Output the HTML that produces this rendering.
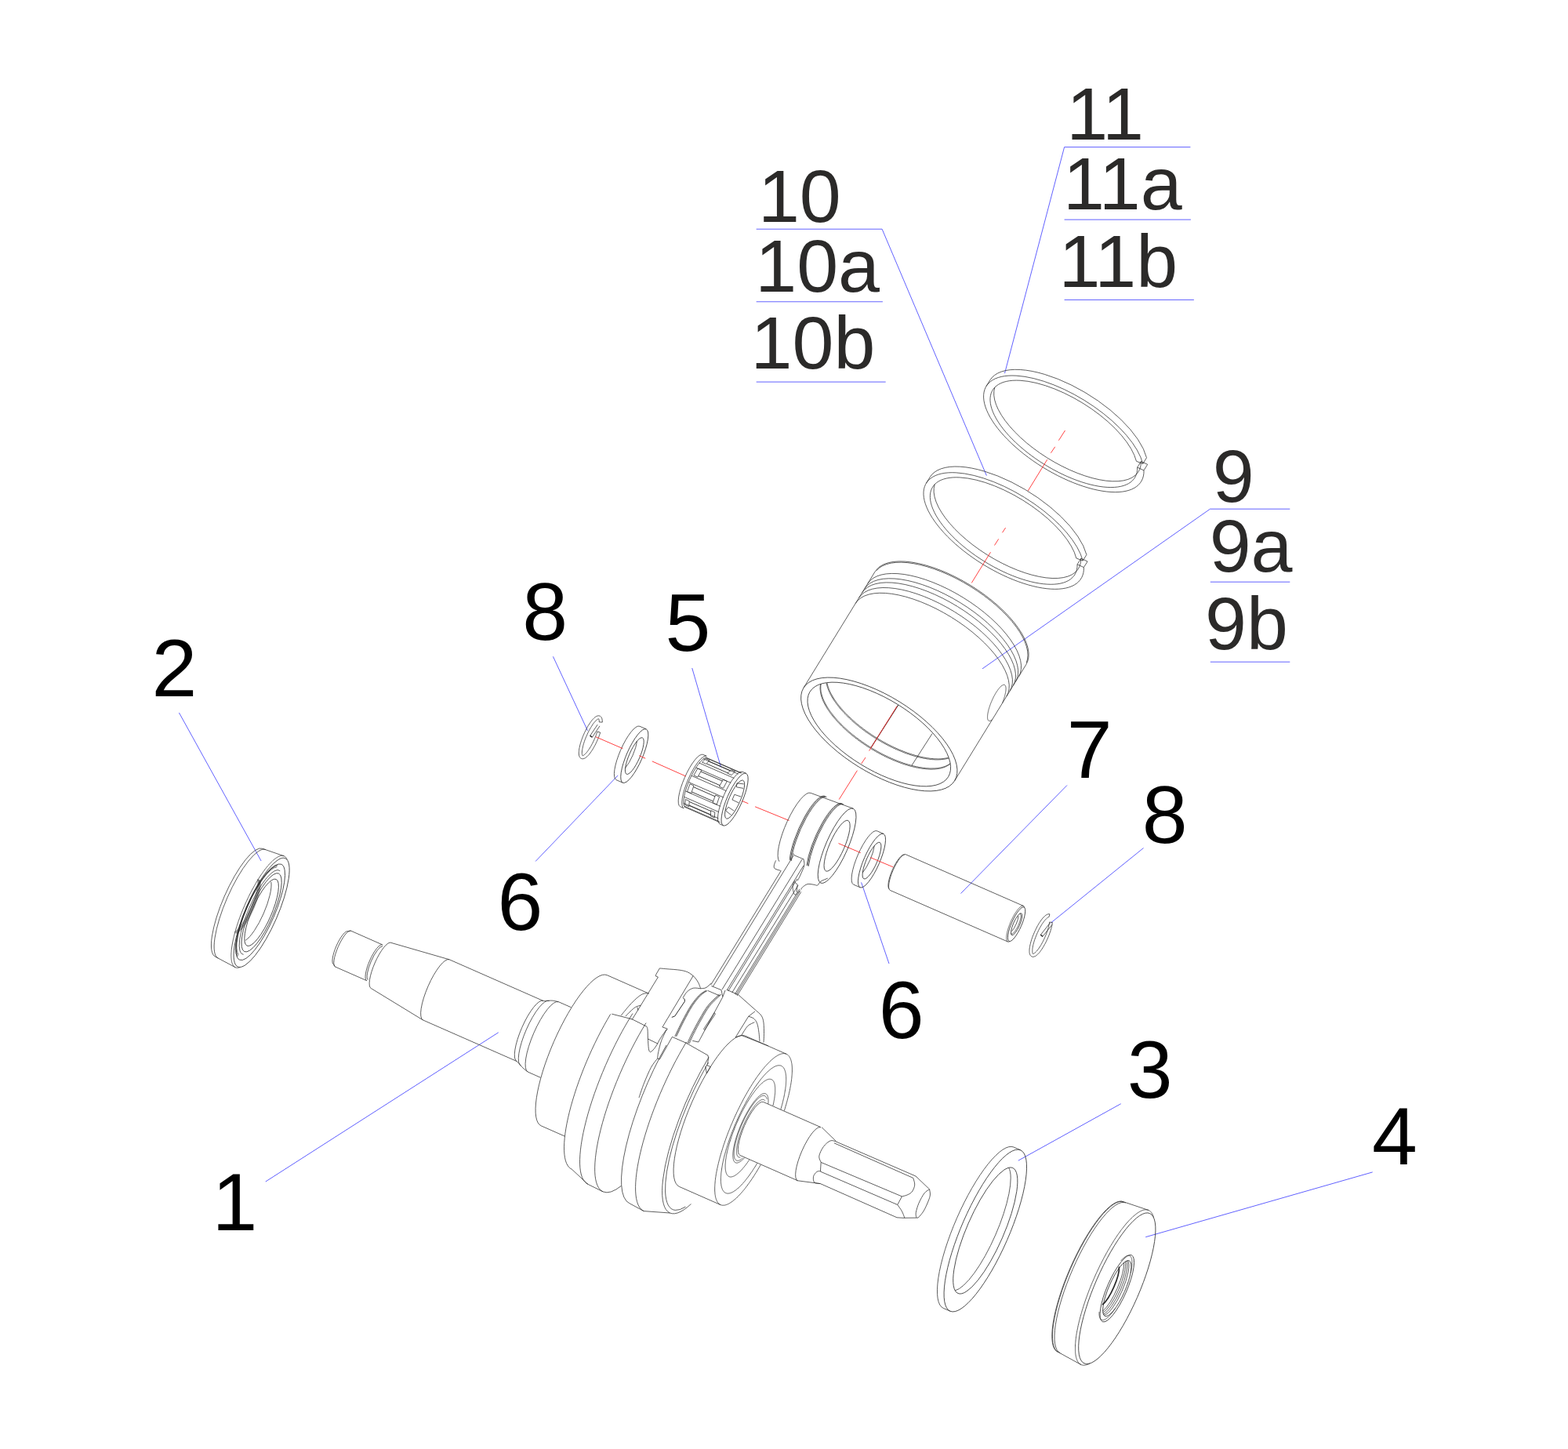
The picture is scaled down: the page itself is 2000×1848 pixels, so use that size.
<!DOCTYPE html>
<html><head><meta charset="utf-8"><title>Exploded view</title><style>html,body{margin:0;padding:0;background:#fff;font-family:"Liberation Sans",sans-serif}svg{display:block}</style></head><body><svg width="2000" height="1848" viewBox="0 0 2000 1848"><rect width="2000" height="1848" fill="#fff"/>
<text x="193.55" y="888.42" font-family="&quot;Liberation Sans&quot;, sans-serif" font-size="104" fill="#000">2</text>
<text x="270.41" y="1568.53" font-family="&quot;Liberation Sans&quot;, sans-serif" font-size="104" fill="#000">1</text>
<text x="666.16" y="815.64" font-family="&quot;Liberation Sans&quot;, sans-serif" font-size="104" fill="#000">8</text>
<text x="848.50" y="829.98" font-family="&quot;Liberation Sans&quot;, sans-serif" font-size="104" fill="#000">5</text>
<text x="634.51" y="1186.14" font-family="&quot;Liberation Sans&quot;, sans-serif" font-size="104" fill="#000">6</text>
<text x="1360.73" y="991.64" font-family="&quot;Liberation Sans&quot;, sans-serif" font-size="104" fill="#000">7</text>
<text x="1456.66" y="1075.24" font-family="&quot;Liberation Sans&quot;, sans-serif" font-size="104" fill="#000">8</text>
<text x="1120.71" y="1324.04" font-family="&quot;Liberation Sans&quot;, sans-serif" font-size="104" fill="#000">6</text>
<text x="1437.76" y="1399.62" font-family="&quot;Liberation Sans&quot;, sans-serif" font-size="104" fill="#000">3</text>
<text x="1750.03" y="1485.12" font-family="&quot;Liberation Sans&quot;, sans-serif" font-size="104" fill="#000">4</text>
<text x="966.93" y="282.60" font-family="&quot;Liberation Sans&quot;, sans-serif" font-size="95.2" fill="#2B2A29">10</text>
<text x="963.23" y="371.60" font-family="&quot;Liberation Sans&quot;, sans-serif" font-size="95.2" fill="#2B2A29">10a</text>
<text x="957.53" y="470.20" font-family="&quot;Liberation Sans&quot;, sans-serif" font-size="95.2" fill="#2B2A29">10b</text>
<text x="1360.23" y="178.40" font-family="&quot;Liberation Sans&quot;, sans-serif" font-size="95.2" fill="#2B2A29">11</text>
<text x="1355.93" y="266.90" font-family="&quot;Liberation Sans&quot;, sans-serif" font-size="95.2" fill="#2B2A29">11a</text>
<text x="1350.43" y="365.70" font-family="&quot;Liberation Sans&quot;, sans-serif" font-size="95.2" fill="#2B2A29">11b</text>
<text x="1546.65" y="640.30" font-family="&quot;Liberation Sans&quot;, sans-serif" font-size="95.2" fill="#2B2A29">9</text>
<text x="1542.65" y="729.30" font-family="&quot;Liberation Sans&quot;, sans-serif" font-size="95.2" fill="#2B2A29">9a</text>
<text x="1536.95" y="827.60" font-family="&quot;Liberation Sans&quot;, sans-serif" font-size="95.2" fill="#2B2A29">9b</text>
<path d="M228.40 909.00 L333.10 1098.00" fill="none" stroke="#4444ff" stroke-width="0.85" />
<path d="M338.75 1507.00 L635.75 1316.75" fill="none" stroke="#4444ff" stroke-width="0.85" />
<path d="M705.45 837.30 L749.55 931.95" fill="none" stroke="#4444ff" stroke-width="0.85" />
<path d="M882.75 852.00 L919.50 978.30" fill="none" stroke="#4444ff" stroke-width="0.85" />
<path d="M683.10 1098.50 L788.20 988.90" fill="none" stroke="#4444ff" stroke-width="0.85" />
<path d="M1361.00 1001.50 L1225.50 1139.50" fill="none" stroke="#4444ff" stroke-width="0.85" />
<path d="M1458.50 1081.50 L1340.40 1177.00" fill="none" stroke="#4444ff" stroke-width="0.85" />
<path d="M1134.00 1229.00 L1098.60 1125.40" fill="none" stroke="#4444ff" stroke-width="0.85" />
<path d="M1429.70 1407.70 L1298.80 1480.20" fill="none" stroke="#4444ff" stroke-width="0.85" />
<path d="M1750.70 1494.90 L1461.20 1577.70" fill="none" stroke="#4444ff" stroke-width="0.85" />
<path d="M964.70 292.20 L1125.10 292.20 L1258.40 606.60" fill="none" stroke="#4444ff" stroke-width="0.85" />
<path d="M1518.40 187.60 L1357.60 187.60 L1281.50 476.10" fill="none" stroke="#4444ff" stroke-width="0.85" />
<path d="M1645.30 649.15 L1543.50 649.15 L1253.00 852.90" fill="none" stroke="#4444ff" stroke-width="0.85" />
<path d="M964.70 384.80 L1125.90 384.80" fill="none" stroke="#4444ff" stroke-width="0.85" />
<path d="M964.70 487.10 L1129.70 487.10" fill="none" stroke="#4444ff" stroke-width="0.85" />
<path d="M1357.60 280.10 L1518.90 280.10" fill="none" stroke="#4444ff" stroke-width="0.85" />
<path d="M1357.60 382.40 L1522.90 382.40" fill="none" stroke="#4444ff" stroke-width="0.85" />
<path d="M1543.80 742.20 L1645.30 742.20" fill="none" stroke="#4444ff" stroke-width="0.85" />
<path d="M1543.80 844.20 L1645.30 844.20" fill="none" stroke="#4444ff" stroke-width="0.85" />
<ellipse cx="1256.80" cy="1569.50" rx="112.10" ry="30.27" transform="rotate(-66.40 1256.80 1569.50)" fill="none" stroke="#2a2a2a" stroke-width="0.75"/>
<path d="M1203.22 1668.42 A112.10 30.27 -66.40 0 1 1292.97 1462.97" fill="none" stroke="#2a2a2a" stroke-width="0.75"/>
<path d="M1301.7 1466.8 L1293.0 1463.0" fill="none" stroke="#2a2a2a" stroke-width="0.75" stroke-linejoin="round" />
<path d="M1211.9 1672.2 L1203.2 1668.4" fill="none" stroke="#2a2a2a" stroke-width="0.75" stroke-linejoin="round" />
<ellipse cx="1256.80" cy="1569.50" rx="87.30" ry="23.57" transform="rotate(-66.40 1256.80 1569.50)" fill="none" stroke="#2a2a2a" stroke-width="0.75"/>
<path d="M1286.68 1489.24 A87.30 23.57 -66.40 0 1 1218.21 1645.96" fill="none" stroke="#2a2a2a" stroke-width="0.75"/>
<ellipse cx="1424.80" cy="1643.20" rx="104.40" ry="28.19" transform="rotate(-66.40 1424.80 1643.20)" fill="none" stroke="#2a2a2a" stroke-width="0.75"/>
<path d="M1465.1 1543.5 L1465.5 1543.7 L1466.0 1544.0 L1466.4 1544.2 L1466.8 1544.5 L1467.2 1544.9 L1467.6 1545.2 L1468.0 1545.6 L1468.4 1546.1 L1468.7 1546.5 L1469.1 1547.0 L1469.4 1547.5 L1469.7 1548.1 L1470.0 1548.6 L1470.2 1549.2 L1470.5 1549.9 L1470.8 1550.5 L1471.0 1551.2 L1471.2 1551.9 L1471.4 1552.6" fill="none" stroke="#2a2a2a" stroke-width="0.75" stroke-linejoin="round" />
<path d="M1390.0 1738.9 L1389.3 1739.3 L1388.7 1739.6 L1388.0 1739.9 L1387.4 1740.2 L1386.7 1740.4 L1386.1 1740.6 L1385.5 1740.8 L1384.9 1740.9 L1384.3 1741.0 L1383.7 1741.1 L1383.1 1741.2 L1382.6 1741.2 L1382.0 1741.2 L1381.5 1741.1 L1381.0 1741.1 L1380.5 1741.0 L1380.0 1740.9 L1379.5 1740.7 L1379.0 1740.5 L1378.6 1740.3 L1378.1 1740.0 L1377.7 1739.8 L1377.3 1739.5 L1376.9 1739.1 L1376.5 1738.8 L1376.1 1738.4 L1375.7 1737.9 L1375.4 1737.5 L1375.0 1737.0 L1374.7 1736.5 L1374.4 1735.9 L1374.1 1735.4 L1373.9 1734.8 L1373.6 1734.1 L1373.3 1733.5 L1373.1 1732.8 L1372.9 1732.1 L1372.7 1731.4 L1372.5 1730.6 L1372.3 1729.8 L1372.2 1729.0 L1372.0 1728.1 L1371.9 1727.3 L1371.8 1726.4 L1371.7 1725.4 L1371.6 1724.5 L1371.6 1723.5 L1371.5 1722.5 L1371.5 1721.5 L1371.5 1720.5 L1371.5 1719.4 L1371.5 1718.3 L1371.5 1717.2 L1371.5 1716.0 L1371.6 1714.9 L1371.7 1713.7 L1371.8 1712.5 L1371.9 1711.2 L1372.0 1710.0 L1372.1 1708.7 L1372.3 1707.4 L1372.4 1706.1 L1372.6 1704.8 L1372.8 1703.4 L1373.0 1702.1 L1373.2 1700.7 L1373.5 1699.3 L1373.7 1697.9 L1374.0 1696.4 L1374.3 1695.0 L1374.6 1693.5 L1374.9 1692.0 L1375.2 1690.5 L1375.6 1689.0 L1375.9 1687.5 L1376.3 1685.9 L1376.7 1684.3 L1377.1 1682.8 L1377.5 1681.2 L1377.9 1679.6 L1378.4 1678.0 L1378.8 1676.4 L1379.3 1674.7 L1379.8 1673.1 L1380.2 1671.5 L1380.8 1669.8 L1381.3 1668.1 L1381.8 1666.5 L1382.3 1664.8 L1382.9 1663.1 L1383.5 1661.4 L1384.0 1659.7 L1384.6 1658.0 L1385.2 1656.3 L1385.8 1654.6 L1386.5 1652.8 L1387.1 1651.1 L1387.7 1649.4 L1388.4 1647.7 L1389.0 1645.9 L1389.7 1644.2 L1390.4 1642.5 L1391.1 1640.7 L1391.8 1639.0 L1392.5 1637.3 L1393.2 1635.6 L1394.0 1633.8 L1394.7 1632.1 L1395.5 1630.4 L1396.2 1628.7 L1397.0 1626.9 L1397.7 1625.2 L1398.5 1623.5 L1399.3 1621.8 L1400.1 1620.1 L1400.9 1618.5 L1401.7 1616.8 L1402.5 1615.1 L1403.3 1613.4 L1404.2 1611.8 L1405.0 1610.2 L1405.8 1608.5 L1406.7 1606.9 L1407.5 1605.3 L1408.3 1603.7 L1409.2 1602.1 L1410.1 1600.5 L1410.9 1598.9 L1411.8 1597.4 L1412.6 1595.8 L1413.5 1594.3 L1414.4 1592.8 L1415.3 1591.3 L1416.1 1589.8 L1417.0 1588.4 L1417.9 1586.9 L1418.8 1585.5 L1419.7 1584.1 L1420.5 1582.7 L1421.4 1581.3 L1422.3 1579.9 L1423.2 1578.6 L1424.1 1577.3 L1424.9 1576.0 L1425.8 1574.7 L1426.7 1573.4 L1427.6 1572.2 L1428.5 1571.0 L1429.3 1569.8 L1430.2 1568.6 L1431.1 1567.4 L1432.0 1566.3 L1432.8 1565.2 L1433.7 1564.1 L1434.5 1563.1 L1435.4 1562.0 L1436.2 1561.0 L1437.1 1560.0 L1437.9 1559.1 L1438.8 1558.1 L1439.6 1557.2 L1440.4 1556.3 L1441.2 1555.5 L1442.0 1554.6 L1442.9 1553.8 L1443.7 1553.1 L1444.5 1552.3 L1445.2 1551.6 L1446.0 1550.9 L1446.8 1550.2 L1447.6 1549.6 L1448.3 1549.0 L1449.1 1548.4 L1449.8 1547.8 L1450.5 1547.3 L1451.3 1546.8 L1452.0 1546.3 L1452.7 1545.9 L1453.4 1545.5 L1454.1 1545.1 L1454.8 1544.7 L1455.4 1544.4 L1456.1 1544.1 L1456.7 1543.8 L1457.4 1543.6 L1458.0 1543.4 L1458.6 1543.2 L1459.2 1543.1 L1459.8 1543.0 L1460.4 1542.9 L1461.0 1542.8 L1461.5 1542.8 L1462.1 1542.8 L1462.6 1542.9 L1463.1 1542.9 L1463.6 1543.0 L1464.1 1543.1 L1464.6 1543.3 L1465.1 1543.5" fill="none" stroke="#2a2a2a" stroke-width="0.75" stroke-linejoin="round" />
<path d="M1352.27 1725.55 A104.50 28.22 -66.40 0 1 1435.94 1534.03" fill="none" stroke="#2a2a2a" stroke-width="0.75"/>
<path d="M1349.70 1724.43 A104.50 28.22 -66.40 0 1 1433.37 1532.91" fill="none" stroke="#2a2a2a" stroke-width="0.75"/>
<path d="M1349.06 1724.15 A104.50 28.22 -66.40 0 1 1432.73 1532.63" fill="none" stroke="#2a2a2a" stroke-width="0.75"/>
<path d="M1465.1 1543.5 L1432.7 1532.6" fill="none" stroke="#2a2a2a" stroke-width="0.75" stroke-linejoin="round" />
<path d="M1379.0 1740.5 L1349.1 1724.1" fill="none" stroke="#2a2a2a" stroke-width="0.75" stroke-linejoin="round" />
<ellipse cx="1424.80" cy="1643.20" rx="46.30" ry="12.50" transform="rotate(-66.40 1424.80 1643.20)" fill="none" stroke="#2a2a2a" stroke-width="0.75"/>
<ellipse cx="1424.80" cy="1643.20" rx="38.60" ry="10.42" transform="rotate(-66.40 1424.80 1643.20)" fill="none" stroke="#2a2a2a" stroke-width="0.75"/>
<path d="M1429.6 1608.0 L1429.9 1607.6 L1430.2 1607.2 L1430.6 1606.9 L1430.9 1606.5 L1431.3 1606.2 L1431.6 1605.8 L1431.9 1605.5 L1432.3 1605.2 L1432.6 1604.9 L1432.9 1604.6 L1433.2 1604.3 L1433.6 1604.1 L1433.9 1603.8 L1434.2 1603.6 L1434.5 1603.3 L1434.8 1603.1 L1435.1 1602.9 L1435.4 1602.7 L1435.7 1602.5 L1436.0 1602.3 L1436.3 1602.2 L1436.5 1602.0 L1436.8 1601.9 L1437.1 1601.8 L1437.4 1601.7 L1437.6 1601.6 L1437.9 1601.5 L1438.1 1601.4 L1438.4 1601.4 L1438.6 1601.3 L1438.9 1601.3 L1439.1 1601.3 L1439.3 1601.2 L1439.6 1601.2 L1439.8 1601.3 L1440.0 1601.3 L1440.2 1601.3 L1440.4 1601.4 L1440.6 1601.5 L1440.8 1601.5 L1441.0 1601.6 L1441.2 1601.7 L1441.4 1601.8 L1441.5 1602.0 L1441.7 1602.1 L1441.9 1602.3 L1442.0 1602.4 L1442.2 1602.6 L1442.3 1602.8 L1442.5 1603.0 L1442.6 1603.2 L1442.7 1603.4 L1442.8 1603.7 L1443.0 1603.9 L1443.1 1604.2 L1443.2 1604.4 L1443.3 1604.7 L1443.4 1605.0 L1443.4 1605.3 L1443.5 1605.6 L1443.6 1606.0 L1443.7 1606.3 L1443.7 1606.7 L1443.8 1607.0 L1443.8 1607.4 L1443.9 1607.8 L1443.9 1608.2 L1443.9 1608.6 L1443.9 1609.0 L1443.9 1609.4 L1444.0 1609.9 L1444.0 1610.3 L1444.0 1610.7 L1443.9 1611.2 L1443.9 1611.7 L1443.9 1612.2 L1443.9 1612.7 L1443.8 1613.2 L1443.8 1613.7 L1443.7 1614.2 L1443.7 1614.7 L1443.6 1615.3 L1443.6 1615.8 L1443.5 1616.3 L1443.4 1616.9 L1443.3 1617.5 L1443.2 1618.1 L1443.1 1618.6 L1443.0 1619.2 L1442.9 1619.8 L1442.8 1620.4 L1442.7 1621.0 L1442.5 1621.7 L1442.4 1622.3 L1442.2 1622.9 L1442.1 1623.5" fill="none" stroke="#2a2a2a" stroke-width="0.75" stroke-linejoin="round" />
<path d="M1422.1 1669.3 L1421.8 1669.8 L1421.4 1670.3 L1421.0 1670.8 L1420.7 1671.4 L1420.3 1671.9 L1419.9 1672.4 L1419.6 1672.9 L1419.2 1673.3 L1418.9 1673.8 L1418.5 1674.3 L1418.1 1674.7 L1417.8 1675.1 L1417.4 1675.6 L1417.1 1676.0 L1416.7 1676.4 L1416.4 1676.8 L1416.0 1677.2 L1415.7 1677.6 L1415.3 1677.9 L1415.0 1678.3 L1414.7 1678.6 L1414.3 1679.0 L1414.0 1679.3 L1413.7 1679.6 L1413.3 1679.9 L1413.0 1680.2 L1412.7 1680.5 L1412.4 1680.7 L1412.1 1681.0 L1411.8 1681.2 L1411.4 1681.5 L1411.1 1681.7 L1410.8 1681.9 L1410.5 1682.1 L1410.3 1682.3 L1410.0 1682.5 L1409.7 1682.6 L1409.4 1682.8 L1409.1 1682.9 L1408.8 1683.0 L1408.6 1683.1 L1408.3 1683.2 L1408.1 1683.3 L1407.8 1683.4 L1407.5 1683.4 L1407.3 1683.5 L1407.1 1683.5 L1406.8 1683.5 L1406.6 1683.6 L1406.4 1683.5 L1406.1 1683.5 L1405.9 1683.5 L1405.7 1683.5 L1405.5 1683.4 L1405.3 1683.3 L1405.1 1683.3 L1404.9 1683.2 L1404.7 1683.1 L1404.6 1683.0 L1404.4 1682.8 L1404.2 1682.7 L1404.1 1682.5 L1403.9 1682.4 L1403.7 1682.2 L1403.6 1682.0 L1403.5 1681.8 L1403.3 1681.6 L1403.2 1681.4 L1403.1 1681.1 L1403.0 1680.9 L1402.9 1680.6 L1402.8 1680.4 L1402.7 1680.1 L1402.6 1679.8 L1402.5 1679.5 L1402.4 1679.2 L1402.3 1678.8 L1402.3 1678.5 L1402.2 1678.1 L1402.2 1677.8 L1402.1 1677.4 L1402.1 1677.0 L1402.0 1676.6 L1402.0 1676.2 L1402.0 1675.8 L1402.0 1675.4 L1402.0 1674.9 L1402.0 1674.5 L1402.0 1674.0 L1402.0 1673.6 L1402.0 1673.1" fill="none" stroke="#2a2a2a" stroke-width="0.75" stroke-linejoin="round" />
<path d="M1438.55 1607.61 A38.60 10.42 -66.40 0 1 1408.03 1677.46" fill="none" stroke="#2a2a2a" stroke-width="0.75"/>
<path d="M1437.12 1608.01 A38.60 10.42 -66.40 0 1 1407.35 1676.15" fill="none" stroke="#2a2a2a" stroke-width="0.75"/>
<path d="M1435.48 1608.89 A38.60 10.42 -66.40 0 1 1406.88 1674.35" fill="none" stroke="#2a2a2a" stroke-width="0.75"/>
<path d="M1433.60 1610.31 A38.60 10.42 -66.40 0 1 1406.65 1672.01" fill="none" stroke="#2a2a2a" stroke-width="0.75"/>
<path d="M1427.43 1615.45 A30.00 8.10 -66.40 0 1 1406.23 1663.99" fill="none" stroke="#2a2a2a" stroke-width="1.7"/>
<ellipse cx="333.60" cy="1163.80" rx="75.50" ry="20.39" transform="rotate(-66.40 333.60 1163.80)" fill="none" stroke="#2a2a2a" stroke-width="0.75"/>
<path d="M362.3 1091.8 L362.7 1091.9 L363.0 1092.1 L363.3 1092.3 L363.6 1092.5 L363.9 1092.8 L364.2 1093.0 L364.4 1093.3 L364.7 1093.6 L365.0 1094.0 L365.2 1094.3 L365.4 1094.7 L365.6 1095.1 L365.9 1095.5 L366.1 1095.9 L366.2 1096.4" fill="none" stroke="#2a2a2a" stroke-width="0.75" stroke-linejoin="round" />
<path d="M306.3 1233.6 L305.8 1233.7 L305.4 1233.9 L304.9 1234.0 L304.5 1234.1 L304.1 1234.2 L303.7 1234.3 L303.3 1234.3 L302.9 1234.3 L302.5 1234.3 L302.1 1234.3 L301.7 1234.2 L301.3 1234.2 L301.0 1234.1 L300.6 1234.0 L300.3 1233.8 L300.0 1233.7 L299.6 1233.5 L299.3 1233.3 L299.0 1233.1 L298.7 1232.8 L298.4 1232.6 L298.2 1232.3 L297.9 1232.0 L297.7 1231.6 L297.4 1231.3 L297.2 1230.9 L297.0 1230.5 L296.8 1230.1 L296.6 1229.7 L296.4 1229.2 L296.2 1228.8 L296.0 1228.3 L295.9 1227.8 L295.7 1227.2 L295.6 1226.7 L295.5 1226.1 L295.4 1225.5 L295.3 1224.9 L295.2 1224.3 L295.1 1223.6 L295.0 1223.0 L295.0 1222.3 L294.9 1221.6 L294.9 1220.9 L294.9 1220.1 L294.8 1219.4 L294.8 1218.6 L294.8 1217.8 L294.9 1217.0 L294.9 1216.2 L294.9 1215.3 L295.0 1214.5 L295.1 1213.6 L295.1 1212.7 L295.2 1211.8 L295.3 1210.9 L295.4 1210.0 L295.5 1209.0 L295.7 1208.1 L295.8 1207.1 L296.0 1206.1 L296.1 1205.1 L296.3 1204.1 L296.5 1203.1 L296.7 1202.0 L296.9 1201.0 L297.1 1199.9 L297.3 1198.8 L297.6 1197.8 L297.8 1196.7 L298.1 1195.6 L298.3 1194.5 L298.6 1193.3 L298.9 1192.2 L299.2 1191.1 L299.5 1189.9 L299.8 1188.7 L300.1 1187.6 L300.5 1186.4 L300.8 1185.2 L301.2 1184.0 L301.5 1182.8 L301.9 1181.6 L302.3 1180.4 L302.7 1179.2 L303.1 1178.0 L303.5 1176.8 L303.9 1175.6 L304.3 1174.3 L304.8 1173.1 L305.2 1171.9 L305.6 1170.6 L306.1 1169.4 L306.6 1168.1 L307.0 1166.9 L307.5 1165.6 L308.0 1164.4 L308.5 1163.1 L309.0 1161.9 L309.5 1160.6 L310.0 1159.4 L310.5 1158.2 L311.1 1156.9 L311.6 1155.7 L312.1 1154.4 L312.7 1153.2 L313.2 1151.9 L313.8 1150.7 L314.3 1149.5 L314.9 1148.3 L315.5 1147.0 L316.1 1145.8 L316.6 1144.6 L317.2 1143.4 L317.8 1142.2 L318.4 1141.0 L319.0 1139.8 L319.6 1138.7 L320.2 1137.5 L320.8 1136.3 L321.4 1135.2 L322.0 1134.0 L322.7 1132.9 L323.3 1131.8 L323.9 1130.6 L324.5 1129.5 L325.2 1128.4 L325.8 1127.3 L326.4 1126.3 L327.0 1125.2 L327.7 1124.1 L328.3 1123.1 L328.9 1122.1 L329.6 1121.0 L330.2 1120.0 L330.9 1119.0 L331.5 1118.1 L332.1 1117.1 L332.8 1116.1 L333.4 1115.2 L334.0 1114.3 L334.7 1113.4 L335.3 1112.5 L335.9 1111.6 L336.6 1110.7 L337.2 1109.9 L337.8 1109.1 L338.4 1108.2 L339.1 1107.4 L339.7 1106.7 L340.3 1105.9 L340.9 1105.1 L341.5 1104.4 L342.1 1103.7 L342.8 1103.0 L343.4 1102.3 L344.0 1101.7 L344.5 1101.0 L345.1 1100.4 L345.7 1099.8 L346.3 1099.2 L346.9 1098.7 L347.5 1098.1 L348.0 1097.6 L348.6 1097.1 L349.1 1096.6 L349.7 1096.2 L350.2 1095.7 L350.8 1095.3 L351.3 1094.9 L351.9 1094.5 L352.4 1094.2 L352.9 1093.8 L353.4 1093.5 L353.9 1093.2 L354.4 1092.9 L354.9 1092.7 L355.4 1092.4 L355.8 1092.2 L356.3 1092.0 L356.8 1091.9 L357.2 1091.7 L357.7 1091.6 L358.1 1091.5 L358.5 1091.4 L359.0 1091.3 L359.4 1091.3 L359.8 1091.3 L360.2 1091.3 L360.5 1091.3 L360.9 1091.4 L361.3 1091.4 L361.6 1091.5 L362.0 1091.6 L362.3 1091.8" fill="none" stroke="#2a2a2a" stroke-width="0.75" stroke-linejoin="round" />
<path d="M278.41 1222.19 A75.60 20.41 -66.40 0 1 338.94 1083.63" fill="none" stroke="#2a2a2a" stroke-width="0.75"/>
<path d="M274.63 1220.10 A75.20 20.30 -66.40 0 1 334.84 1082.28" fill="none" stroke="#2a2a2a" stroke-width="0.75"/>
<path d="M362.3 1091.8 L334.8 1082.3" fill="none" stroke="#2a2a2a" stroke-width="0.75" stroke-linejoin="round" />
<path d="M300.3 1233.8 L274.6 1220.1" fill="none" stroke="#2a2a2a" stroke-width="0.75" stroke-linejoin="round" />
<ellipse cx="332.23" cy="1163.20" rx="66.50" ry="17.96" transform="rotate(-66.40 332.23 1163.20)" fill="none" stroke="#2a2a2a" stroke-width="0.75"/>
<path d="M302.93 1220.43 A64.80 17.50 -66.40 0 1 354.31 1102.82" fill="none" stroke="#2a2a2a" stroke-width="0.6"/>
<path d="M303.62 1219.00 A63.20 17.06 -66.40 0 1 353.73 1104.30" fill="none" stroke="#2a2a2a" stroke-width="0.6"/>
<path d="M304.31 1217.57 A61.60 16.63 -66.40 0 1 353.15 1105.77" fill="none" stroke="#2a2a2a" stroke-width="0.6"/>
<path d="M310.65 1217.26 A58.40 15.77 -66.40 1 1 357.23 1110.64" fill="none" stroke="#2a2a2a" stroke-width="0.75"/>
<ellipse cx="333.60" cy="1163.80" rx="54.40" ry="14.69" transform="rotate(-66.40 333.60 1163.80)" fill="none" stroke="#2a2a2a" stroke-width="0.75"/>
<ellipse cx="333.60" cy="1163.80" rx="46.30" ry="12.50" transform="rotate(-66.40 333.60 1163.80)" fill="none" stroke="#2a2a2a" stroke-width="0.75"/>
<path d="M345.78 1124.68 A44.00 11.88 -66.40 0 1 313.17 1199.31" fill="none" stroke="#2a2a2a" stroke-width="0.75"/>
<path d="M332.00 1122.63 A40.00 10.80 -66.40 0 1 302.30 1190.60" fill="none" stroke="#2a2a2a" stroke-width="0.55"/>
<path d="M331.17 1122.27 A40.00 10.80 -66.40 0 1 301.47 1190.24" fill="none" stroke="#2a2a2a" stroke-width="0.55"/>
<path d="M330.35 1121.91 A40.00 10.80 -66.40 0 1 300.65 1189.88" fill="none" stroke="#2a2a2a" stroke-width="0.55"/>
<path d="M329.52 1121.55 A40.00 10.80 -66.40 0 1 299.83 1189.52" fill="none" stroke="#2a2a2a" stroke-width="0.55"/>
<path d="M328.70 1121.19 A40.00 10.80 -66.40 0 1 299.00 1189.16" fill="none" stroke="#2a2a2a" stroke-width="0.55"/>
<ellipse cx="1296.60" cy="1178.70" rx="23.70" ry="6.40" transform="rotate(-66.40 1296.60 1178.70)" fill="none" stroke="#2a2a2a" stroke-width="0.75"/>
<path d="M1305.4 1155.4 L1305.5 1155.4 L1305.6 1155.5 L1305.7 1155.5 L1305.8 1155.6 L1305.9 1155.7 L1306.0 1155.8 L1306.1 1155.9 L1306.1 1156.0 L1306.2 1156.1 L1306.3 1156.2 L1306.4 1156.3 L1306.4 1156.4 L1306.5 1156.6 L1306.6 1156.7 L1306.6 1156.8 L1306.7 1157.0 L1306.7 1157.1 L1306.8 1157.3 L1306.8 1157.5" fill="none" stroke="#2a2a2a" stroke-width="0.75" stroke-linejoin="round" />
<path d="M1288.0 1200.6 L1287.8 1200.7 L1287.7 1200.8 L1287.5 1200.9 L1287.4 1200.9 L1287.2 1201.0 L1287.1 1201.0 L1286.9 1201.1 L1286.8 1201.1 L1286.7 1201.1 L1286.5 1201.1 L1286.4 1201.1 L1286.3 1201.2 L1286.1 1201.2 L1286.0 1201.1 L1285.9 1201.1 L1285.8 1201.1 L1285.7 1201.1 L1285.5 1201.0 L1285.4 1201.0 L1285.3 1200.9 L1285.2 1200.9 L1285.1 1200.8 L1285.0 1200.8 L1284.9 1200.7 L1284.9 1200.6 L1284.8 1200.5 L1284.7 1200.4 L1284.6 1200.3 L1284.5 1200.2 L1284.4 1200.1 L1284.4 1199.9 L1284.3 1199.8 L1284.2 1199.7 L1284.2 1199.5 L1284.1 1199.4 L1284.1 1199.2 L1284.0 1199.0 L1284.0 1198.9 L1283.9 1198.7 L1283.9 1198.5 L1283.9 1198.3 L1283.8 1198.1 L1283.8 1197.9 L1283.8 1197.7 L1283.7 1197.5 L1283.7 1197.3 L1283.7 1197.1 L1283.7 1196.8 L1283.7 1196.6 L1283.7 1196.4 L1283.7 1196.1 L1283.7 1195.8 L1283.7 1195.6 L1283.7 1195.3 L1283.7 1195.1 L1283.7 1194.8 L1283.8 1194.5 L1283.8 1194.2 L1283.8 1193.9 L1283.8 1193.6 L1283.9 1193.3 L1283.9 1193.0 L1284.0 1192.7 L1284.0 1192.4 L1284.1 1192.1 L1284.1 1191.8 L1284.2 1191.4 L1284.2 1191.1 L1284.3 1190.8 L1284.3 1190.4 L1284.4 1190.1 L1284.5 1189.8 L1284.6 1189.4 L1284.6 1189.1 L1284.7 1188.7 L1284.8 1188.3 L1284.9 1188.0 L1285.0 1187.6 L1285.1 1187.3 L1285.2 1186.9 L1285.3 1186.5 L1285.4 1186.1 L1285.5 1185.8 L1285.6 1185.4 L1285.7 1185.0 L1285.8 1184.6 L1286.0 1184.2 L1286.1 1183.8 L1286.2 1183.5 L1286.3 1183.1 L1286.5 1182.7 L1286.6 1182.3 L1286.7 1181.9 L1286.9 1181.5 L1287.0 1181.1 L1287.2 1180.7 L1287.3 1180.3 L1287.5 1179.9 L1287.6 1179.5 L1287.8 1179.1 L1287.9 1178.7 L1288.1 1178.3 L1288.2 1177.9 L1288.4 1177.5 L1288.6 1177.1 L1288.7 1176.7 L1288.9 1176.3 L1289.1 1175.9 L1289.2 1175.5 L1289.4 1175.1 L1289.6 1174.7 L1289.8 1174.3 L1290.0 1173.9 L1290.1 1173.5 L1290.3 1173.1 L1290.5 1172.7 L1290.7 1172.3 L1290.9 1172.0 L1291.1 1171.6 L1291.3 1171.2 L1291.5 1170.8 L1291.6 1170.4 L1291.8 1170.0 L1292.0 1169.7 L1292.2 1169.3 L1292.4 1168.9 L1292.6 1168.6 L1292.8 1168.2 L1293.0 1167.8 L1293.2 1167.5 L1293.4 1167.1 L1293.6 1166.8 L1293.8 1166.4 L1294.0 1166.1 L1294.2 1165.8 L1294.4 1165.4 L1294.6 1165.1 L1294.9 1164.8 L1295.1 1164.4 L1295.3 1164.1 L1295.5 1163.8 L1295.7 1163.5 L1295.9 1163.2 L1296.1 1162.9 L1296.3 1162.6 L1296.5 1162.3 L1296.7 1162.0 L1296.9 1161.7 L1297.1 1161.5 L1297.3 1161.2 L1297.5 1160.9 L1297.7 1160.6 L1297.9 1160.4 L1298.1 1160.1 L1298.3 1159.9 L1298.5 1159.7 L1298.7 1159.4 L1298.9 1159.2 L1299.1 1159.0 L1299.3 1158.8 L1299.5 1158.5 L1299.7 1158.3 L1299.9 1158.1 L1300.0 1157.9 L1300.2 1157.8 L1300.4 1157.6 L1300.6 1157.4 L1300.8 1157.2 L1301.0 1157.1 L1301.1 1156.9 L1301.3 1156.8 L1301.5 1156.6 L1301.7 1156.5 L1301.8 1156.4 L1302.0 1156.2 L1302.2 1156.1 L1302.3 1156.0 L1302.5 1155.9 L1302.7 1155.8 L1302.8 1155.7 L1303.0 1155.6 L1303.1 1155.6 L1303.3 1155.5 L1303.4 1155.4 L1303.6 1155.4 L1303.7 1155.3 L1303.9 1155.3 L1304.0 1155.3 L1304.2 1155.2 L1304.3 1155.2 L1304.4 1155.2 L1304.6 1155.2 L1304.7 1155.2 L1304.8 1155.2 L1304.9 1155.2 L1305.0 1155.3 L1305.2 1155.3 L1305.3 1155.3 L1305.4 1155.4" fill="none" stroke="#2a2a2a" stroke-width="0.75" stroke-linejoin="round" />
<path d="M1135.25 1135.38 A24.90 6.72 -66.40 0 1 1155.19 1089.74" fill="none" stroke="#2a2a2a" stroke-width="0.75"/>
<path d="M1134.55 1133.98 A23.90 6.45 -66.40 0 1 1153.69 1090.18" fill="none" stroke="#2a2a2a" stroke-width="0.75"/>
<path d="M1305.4 1155.4 L1155.2 1089.7" fill="none" stroke="#2a2a2a" stroke-width="0.75" stroke-linejoin="round" />
<path d="M1285.4 1201.0 L1135.2 1135.4" fill="none" stroke="#2a2a2a" stroke-width="0.75" stroke-linejoin="round" />
<ellipse cx="1296.60" cy="1178.70" rx="15.20" ry="4.10" transform="rotate(-66.40 1296.60 1178.70)" fill="none" stroke="#2a2a2a" stroke-width="0.75"/>
<path d="M1301.1 1165.4 L1301.2 1165.4 L1301.2 1165.5 L1301.3 1165.5 L1301.3 1165.5 L1301.4 1165.6 L1301.4 1165.6 L1301.5 1165.7 L1301.5 1165.7 L1301.6 1165.8 L1301.6 1165.8 L1301.7 1165.9 L1301.7 1166.0 L1301.7 1166.1 L1301.8 1166.1 L1301.8 1166.2 L1301.8 1166.3 L1301.9 1166.4 L1301.9 1166.5 L1301.9 1166.6 L1302.0 1166.7 L1302.0 1166.8 L1302.0 1166.9 L1302.0 1167.0 L1302.0 1167.1 L1302.0 1167.2 L1302.1 1167.4 L1302.1 1167.5 L1302.1 1167.6 L1302.1 1167.7 L1302.1 1167.9 L1302.1 1168.0 L1302.1 1168.1 L1302.1 1168.3 L1302.1 1168.4 L1302.1 1168.6 L1302.1 1168.7 L1302.1 1168.9 L1302.0 1169.0 L1302.0 1169.2 L1302.0 1169.4 L1302.0 1169.5 L1302.0 1169.7 L1302.0 1169.9 L1301.9 1170.0 L1301.9 1170.2 L1301.9 1170.4 L1301.9 1170.6 L1301.8 1170.8 L1301.8 1170.9 L1301.8 1171.1 L1301.7 1171.3 L1301.7 1171.5 L1301.6 1171.7 L1301.6 1171.9 L1301.6 1172.1 L1301.5 1172.3 L1301.5 1172.5 L1301.4 1172.7 L1301.4 1172.9 L1301.3 1173.1 L1301.2 1173.3 L1301.2 1173.5 L1301.1 1173.7 L1301.1 1174.0 L1301.0 1174.2 L1300.9 1174.4 L1300.9 1174.6 L1300.8 1174.8 L1300.7 1175.0 L1300.7 1175.3 L1300.6 1175.5 L1300.5 1175.7 L1300.5 1175.9 L1300.4 1176.1 L1300.3 1176.4 L1300.2 1176.6 L1300.1 1176.8 L1300.1 1177.0 L1300.0 1177.3 L1299.9 1177.5 L1299.8 1177.7 L1299.7 1177.9 L1299.6 1178.2 L1299.5 1178.4 L1299.4 1178.6 L1299.3 1178.8 L1299.3 1179.1 L1299.2 1179.3 L1299.1 1179.5 L1299.0 1179.7 L1298.9 1180.0 L1298.8 1180.2 L1298.7 1180.4 L1298.6 1180.6 L1298.5 1180.8 L1298.4 1181.1 L1298.3 1181.3 L1298.2 1181.5 L1298.0 1181.7 L1297.9 1181.9 L1297.8 1182.2 L1297.7 1182.4 L1297.6 1182.6 L1297.5 1182.8 L1297.4 1183.0 L1297.3 1183.2 L1297.2 1183.4 L1297.1 1183.6 L1297.0 1183.8 L1296.8 1184.0 L1296.7 1184.2 L1296.6 1184.4 L1296.5 1184.6 L1296.4 1184.8 L1296.3 1185.0 L1296.2 1185.2 L1296.0 1185.4 L1295.9 1185.6 L1295.8 1185.8 L1295.7 1185.9 L1295.6 1186.1 L1295.5 1186.3 L1295.4 1186.5 L1295.2 1186.6 L1295.1 1186.8 L1295.0 1187.0 L1294.9 1187.1 L1294.8 1187.3 L1294.7 1187.5 L1294.6 1187.6 L1294.4 1187.8 L1294.3 1187.9 L1294.2 1188.1 L1294.1 1188.2 L1294.0 1188.4 L1293.9 1188.5 L1293.8 1188.6 L1293.7 1188.8 L1293.5 1188.9 L1293.4 1189.0 L1293.3 1189.1 L1293.2 1189.3 L1293.1 1189.4 L1293.0 1189.5 L1292.9 1189.6 L1292.8 1189.7 L1292.7 1189.8 L1292.6 1189.9 L1292.5 1190.0 L1292.4 1190.1 L1292.3 1190.2 L1292.2 1190.3 L1292.1 1190.3 L1292.0 1190.4 L1291.9 1190.5 L1291.8 1190.6 L1291.7 1190.6 L1291.6 1190.7 L1291.5 1190.7 L1291.4 1190.8 L1291.3 1190.8 L1291.2 1190.9 L1291.2 1190.9 L1291.1 1191.0 L1291.0 1191.0 L1290.9 1191.0 L1290.8 1191.1 L1290.7 1191.1 L1290.7 1191.1 L1290.6 1191.1 L1290.5 1191.1 L1290.4 1191.1 L1290.4 1191.1 L1290.3 1191.1 L1290.2 1191.1 L1290.2 1191.1 L1290.1 1191.1 L1290.0 1191.1 L1290.0 1191.1 L1289.9 1191.0 L1289.8 1191.0 L1289.8 1191.0 L1289.7 1191.0 L1289.7 1190.9 L1289.6 1190.9 L1289.6 1190.8 L1289.5 1190.8" fill="none" stroke="#2a2a2a" stroke-width="0.75" stroke-linejoin="round" />
<path d="M1300.6 1165.3 L1300.7 1165.3 L1300.8 1165.3 L1300.8 1165.3 L1300.9 1165.3 L1301.0 1165.3 L1301.0 1165.4 L1301.1 1165.4" fill="none" stroke="#2a2a2a" stroke-width="0.75" stroke-linejoin="round" />
<path d="M1299.04 1168.11 A13.00 3.51 -66.40 0 1 1290.49 1187.69" fill="none" stroke="#2a2a2a" stroke-width="0.75"/>
<ellipse cx="1112.00" cy="1097.60" rx="37.30" ry="10.07" transform="rotate(-66.40 1112.00 1097.60)" fill="none" stroke="#2a2a2a" stroke-width="0.75"/>
<path d="M1088.64 1128.10 A37.30 10.07 -66.40 0 1 1118.50 1059.74" fill="none" stroke="#2a2a2a" stroke-width="0.75"/>
<path d="M1126.9 1063.4 L1118.5 1059.7" fill="none" stroke="#2a2a2a" stroke-width="0.75" stroke-linejoin="round" />
<path d="M1097.1 1131.8 L1088.6 1128.1" fill="none" stroke="#2a2a2a" stroke-width="0.75" stroke-linejoin="round" />
<ellipse cx="1112.00" cy="1097.60" rx="25.30" ry="6.83" transform="rotate(-66.40 1112.00 1097.60)" fill="none" stroke="#2a2a2a" stroke-width="0.75"/>
<path d="M1115.27 1078.62 A25.30 6.83 -66.40 0 1 1100.30 1112.90" fill="none" stroke="#2a2a2a" stroke-width="0.75"/>
<ellipse cx="809.30" cy="964.10" rx="37.30" ry="10.07" transform="rotate(-66.40 809.30 964.10)" fill="none" stroke="#2a2a2a" stroke-width="0.75"/>
<path d="M785.94 994.60 A37.30 10.07 -66.40 0 1 815.80 926.24" fill="none" stroke="#2a2a2a" stroke-width="0.75"/>
<path d="M824.2 929.9 L815.8 926.2" fill="none" stroke="#2a2a2a" stroke-width="0.75" stroke-linejoin="round" />
<path d="M794.4 998.3 L785.9 994.6" fill="none" stroke="#2a2a2a" stroke-width="0.75" stroke-linejoin="round" />
<ellipse cx="809.30" cy="964.10" rx="25.30" ry="6.83" transform="rotate(-66.40 809.30 964.10)" fill="none" stroke="#2a2a2a" stroke-width="0.75"/>
<path d="M812.57 945.12 A25.30 6.83 -66.40 0 1 797.60 979.40" fill="none" stroke="#2a2a2a" stroke-width="0.75"/>
<path d="M765.7 934.2 L765.2 935.8 L764.6 937.4 L764.0 939.0 L763.4 940.7 L762.7 942.3 L762.0 944.0 L761.3 945.6 L760.5 947.2 L759.8 948.8 L759.0 950.3 L758.2 951.8 L757.3 953.3 L756.5 954.8 L755.7 956.1 L754.8 957.4 L754.0 958.7 L753.1 959.9 L752.3 961.0 L751.5 962.1 L750.6 963.0 L749.8 963.9 L749.0 964.7 L748.2 965.4 L747.4 966.1 L746.6 966.6 L745.8 967.1 L744.9 967.4 L744.1 967.7 L743.2 967.8 L742.3 967.7 L741.4 967.4 L740.6 966.9 L739.9 966.3 L739.4 965.5 L739.0 964.7 L738.7 963.9 L738.5 963.0 L738.4 962.0 L738.3 961.0 L738.3 959.9 L738.4 958.7 L738.5 957.5 L738.6 956.2 L738.8 954.9 L739.1 953.5 L739.4 952.1 L739.7 950.6 L740.1 949.1 L740.6 947.5 L741.1 945.9 L741.6 944.3 L742.2 942.7 L742.8 941.1 L743.4 939.4 L744.1 937.8 L744.8 936.1 L745.5 934.5 L746.3 932.9 L747.1 931.3 L747.9 929.8 L748.7 928.3 L749.5 926.8 L750.3 925.4 L751.2 924.1 L752.0 922.8 L752.9 921.5 L753.7 920.4 L754.6 919.3 L755.4 918.2 L756.2 917.3 L757.1 916.4 L757.9 915.6 L758.7 914.9 L759.5 914.3 L760.3 913.8 L761.1 913.4 L761.9 913.1 L762.8 912.9 L763.7 912.8 L764.6 913.0 L765.5 913.3 L766.2 913.9 L766.8 914.5 L767.3 915.3 L767.7 916.1 L767.9 917.0 L768.1 917.9 L768.2 918.9 L768.3 919.9 L768.3 921.1" fill="none" stroke="#2a2a2a" stroke-width="0.75" stroke-linejoin="round" />
<path d="M761.9 933.0 L761.4 934.5 L760.8 936.1 L760.3 937.6 L759.7 939.2 L759.0 940.8 L758.3 942.4 L757.7 943.9 L756.9 945.5 L756.2 947.0 L755.4 948.5 L754.7 949.9 L753.9 951.3 L753.1 952.7 L752.3 954.0 L751.5 955.2 L750.7 956.4 L749.9 957.5 L749.1 958.6 L748.4 959.5 L747.6 960.4 L746.9 961.1 L746.2 961.8 L745.6 962.4 L745.0 962.9 L744.5 963.2 L744.0 963.5 L743.6 963.7 L743.3 963.7 L743.1 963.8 L743.1 963.8 L743.1 963.8 L743.0 963.7 L743.0 963.7 L742.9 963.5 L742.7 963.2 L742.6 962.8 L742.5 962.3 L742.4 961.6 L742.3 960.8 L742.3 960.0 L742.4 959.0 L742.4 957.9 L742.6 956.8 L742.8 955.6 L743.0 954.3 L743.3 953.0 L743.6 951.6 L744.0 950.1 L744.4 948.6 L744.9 947.1 L745.4 945.6 L745.9 944.0 L746.5 942.5 L747.1 940.9 L747.8 939.3 L748.5 937.8 L749.2 936.2 L749.9 934.7 L750.6 933.1 L751.4 931.7 L752.2 930.2 L753.0 928.8 L753.8 927.5 L754.6 926.2 L755.4 925.0 L756.1 923.8 L756.9 922.7 L757.7 921.7 L758.5 920.8 L759.2 920.0 L759.9 919.2 L760.6 918.6 L761.2 918.1 L761.8 917.6 L762.3 917.3 L762.7 917.0 L763.1 916.9 L763.4 916.8 L763.5 916.8 L763.5 916.8 L763.6 916.8 L763.6 916.9 L763.7 916.9 L763.8 917.1 L763.9 917.5 L764.1 917.9 L764.2 918.5 L764.2 919.2 L764.3 920.0 L764.3 920.9" fill="none" stroke="#2a2a2a" stroke-width="0.75" stroke-linejoin="round" />
<path d="M765.7 934.2 L761.9 933.0" fill="none" stroke="#2a2a2a" stroke-width="0.75" stroke-linejoin="round" />
<path d="M768.3 921.1 L764.3 920.9" fill="none" stroke="#2a2a2a" stroke-width="0.75" stroke-linejoin="round" />
<path d="M762.2 924.1 L752.6 938.4 L755.4 940.2 L765.0 925.9" fill="none" stroke="#2a2a2a" stroke-width="0.75" stroke-linejoin="round" />
<path d="M752.6 938.4 L755.4 940.2" fill="none" stroke="#2a2a2a" stroke-width="1.4" stroke-linejoin="round" />
<path d="M1342.4 1176.5 L1342.2 1177.7 L1342.0 1179.1 L1341.8 1180.4 L1341.4 1181.8 L1341.1 1183.2 L1340.7 1184.7 L1340.2 1186.2 L1339.8 1187.8 L1339.2 1189.3 L1338.7 1190.9 L1338.1 1192.5 L1337.5 1194.0 L1336.8 1195.6 L1336.1 1197.2 L1335.4 1198.7 L1334.7 1200.3 L1334.0 1201.8 L1333.2 1203.3 L1332.4 1204.7 L1331.6 1206.1 L1330.8 1207.5 L1330.0 1208.8 L1329.2 1210.1 L1328.4 1211.3 L1327.6 1212.4 L1326.8 1213.5 L1326.0 1214.5 L1325.2 1215.5 L1324.4 1216.3 L1323.6 1217.1 L1322.8 1217.8 L1322.0 1218.5 L1321.3 1219.0 L1320.5 1219.5 L1319.7 1219.8 L1318.9 1220.1 L1318.1 1220.3 L1317.2 1220.3 L1316.4 1220.1 L1315.6 1219.7 L1314.9 1219.2 L1314.3 1218.5 L1313.9 1217.8 L1313.6 1217.0 L1313.3 1216.2 L1313.1 1215.3 L1313.0 1214.4 L1313.0 1213.4 L1313.0 1212.3 L1313.0 1211.2 L1313.1 1210.0 L1313.3 1208.8 L1313.5 1207.5 L1313.7 1206.2 L1314.0 1204.8 L1314.4 1203.4 L1314.7 1201.9 L1315.2 1200.4 L1315.6 1198.9 L1316.1 1197.4 L1316.7 1195.8 L1317.2 1194.2 L1317.9 1192.6 L1318.5 1191.1 L1319.2 1189.5 L1319.9 1187.9 L1320.6 1186.4 L1321.3 1184.9 L1322.1 1183.4 L1322.8 1181.9 L1323.6 1180.5 L1324.4 1179.1 L1325.2 1177.7 L1326.0 1176.4 L1326.9 1175.2 L1327.7 1174.0 L1328.5 1172.9 L1329.3 1171.9 L1330.1 1170.9 L1330.9 1170.0 L1331.7 1169.2 L1332.5 1168.5 L1333.2 1167.8 L1334.0 1167.2 L1334.8 1166.7 L1335.5 1166.3 L1336.3 1166.0 L1337.1 1165.8 L1338.0 1165.7 L1338.9 1165.8" fill="none" stroke="#2a2a2a" stroke-width="0.75" stroke-linejoin="round" />
<path d="M1338.6 1176.0 L1338.5 1177.2 L1338.3 1178.4 L1338.0 1179.6 L1337.7 1180.9 L1337.4 1182.3 L1337.0 1183.7 L1336.6 1185.1 L1336.2 1186.6 L1335.7 1188.1 L1335.1 1189.6 L1334.6 1191.1 L1334.0 1192.6 L1333.3 1194.1 L1332.7 1195.6 L1332.0 1197.1 L1331.3 1198.6 L1330.6 1200.1 L1329.8 1201.5 L1329.1 1202.9 L1328.3 1204.3 L1327.6 1205.6 L1326.8 1206.8 L1326.0 1208.0 L1325.3 1209.1 L1324.5 1210.2 L1323.8 1211.2 L1323.0 1212.1 L1322.3 1213.0 L1321.6 1213.7 L1321.0 1214.4 L1320.3 1215.0 L1319.7 1215.4 L1319.2 1215.8 L1318.7 1216.1 L1318.3 1216.3 L1318.0 1216.4 L1317.7 1216.5 L1317.6 1216.5 L1317.6 1216.5 L1317.5 1216.5 L1317.5 1216.4 L1317.4 1216.3 L1317.3 1216.1 L1317.1 1215.8 L1317.0 1215.3 L1316.9 1214.7 L1316.8 1214.1 L1316.8 1213.3 L1316.8 1212.4 L1316.8 1211.5 L1316.9 1210.4 L1317.0 1209.3 L1317.2 1208.2 L1317.4 1206.9 L1317.7 1205.6 L1318.0 1204.3 L1318.4 1202.9 L1318.8 1201.5 L1319.2 1200.0 L1319.7 1198.6 L1320.2 1197.1 L1320.8 1195.6 L1321.4 1194.0 L1322.0 1192.5 L1322.6 1191.0 L1323.3 1189.5 L1324.0 1188.0 L1324.7 1186.5 L1325.4 1185.1 L1326.2 1183.7 L1326.9 1182.3 L1327.7 1181.0 L1328.5 1179.7 L1329.2 1178.5 L1330.0 1177.3 L1330.8 1176.2 L1331.5 1175.2 L1332.3 1174.3 L1333.0 1173.4 L1333.7 1172.6 L1334.4 1171.9 L1335.0 1171.3 L1335.6 1170.8 L1336.2 1170.3 L1336.7 1170.0 L1337.1 1169.8 L1337.5 1169.6 L1337.8 1169.5 L1337.9 1169.5 L1338.0 1169.5" fill="none" stroke="#2a2a2a" stroke-width="0.75" stroke-linejoin="round" />
<path d="M1342.4 1176.5 L1338.6 1176.0" fill="none" stroke="#2a2a2a" stroke-width="0.75" stroke-linejoin="round" />
<path d="M1338.9 1165.8 L1338.0 1169.5" fill="none" stroke="#2a2a2a" stroke-width="0.75" stroke-linejoin="round" />
<path d="M1339.3 1177.2 L1327.3 1192.2 L1329.9 1194.4 L1341.9 1179.4" fill="none" stroke="#2a2a2a" stroke-width="0.75" stroke-linejoin="round" />
<path d="M1327.3 1192.2 L1329.9 1194.4" fill="none" stroke="#2a2a2a" stroke-width="1.4" stroke-linejoin="round" />
<ellipse cx="937.10" cy="1019.60" rx="36.30" ry="9.80" transform="rotate(-66.40 937.10 1019.60)" fill="none" stroke="#2a2a2a" stroke-width="0.75"/>
<ellipse cx="937.10" cy="1019.60" rx="26.60" ry="7.18" transform="rotate(-66.40 937.10 1019.60)" fill="none" stroke="#2a2a2a" stroke-width="0.75"/>
<path d="M917.99 1050.86 A36.30 9.80 -66.40 0 1 947.05 984.33" fill="none" stroke="#2a2a2a" stroke-width="0.75"/>
<path d="M951.6 986.3 L947.1 984.3" fill="none" stroke="#2a2a2a" stroke-width="0.75" stroke-linejoin="round" />
<path d="M922.6 1052.9 L918.0 1050.9" fill="none" stroke="#2a2a2a" stroke-width="0.75" stroke-linejoin="round" />
<path d="M867.59 1028.84 A36.30 9.80 -66.40 0 1 896.65 962.32" fill="none" stroke="#2a2a2a" stroke-width="0.75"/>
<path d="M872.17 1030.84 A36.30 9.80 -66.40 0 1 901.23 964.32" fill="none" stroke="#2a2a2a" stroke-width="0.75"/>
<path d="M896.7 962.3 L901.2 964.3" fill="none" stroke="#2a2a2a" stroke-width="0.75" stroke-linejoin="round" />
<path d="M867.6 1028.8 L872.2 1030.8" fill="none" stroke="#2a2a2a" stroke-width="0.75" stroke-linejoin="round" />
<path d="M873.49 1029.14 A34.40 9.29 -66.40 0 1 900.88 966.44" fill="none" stroke="#2a2a2a" stroke-width="0.75"/>
<path d="M900.5 966.1 L946.3 986.1" fill="none" stroke="#2a2a2a" stroke-width="0.75" stroke-linejoin="round" />
<path d="M872.9 1029.1 L918.7 1049.1" fill="none" stroke="#2a2a2a" stroke-width="0.75" stroke-linejoin="round" />
<path d="M872.8 1028.2 L917.2 1047.6" fill="none" stroke="#2a2a2a" stroke-width="0.75" stroke-linejoin="round" />
<path d="M871.9 1024.4 L916.4 1043.8" fill="none" stroke="#2a2a2a" stroke-width="0.75" stroke-linejoin="round" />
<path d="M872.6 1016.3 L917.0 1035.7" fill="none" stroke="#2a2a2a" stroke-width="0.75" stroke-linejoin="round" />
<path d="M874.3 1008.9 L918.8 1028.3" fill="none" stroke="#2a2a2a" stroke-width="0.75" stroke-linejoin="round" />
<path d="M878.3 997.5 L922.7 1016.9" fill="none" stroke="#2a2a2a" stroke-width="0.75" stroke-linejoin="round" />
<path d="M882.0 989.3 L926.4 1008.7" fill="none" stroke="#2a2a2a" stroke-width="0.75" stroke-linejoin="round" />
<path d="M887.7 979.0 L932.2 998.4" fill="none" stroke="#2a2a2a" stroke-width="0.75" stroke-linejoin="round" />
<path d="M891.9 973.1 L936.4 992.5" fill="none" stroke="#2a2a2a" stroke-width="0.75" stroke-linejoin="round" />
<path d="M897.3 967.8 L941.8 987.2" fill="none" stroke="#2a2a2a" stroke-width="0.75" stroke-linejoin="round" />
<path d="M900.4 966.5 L944.9 985.9" fill="none" stroke="#2a2a2a" stroke-width="0.75" stroke-linejoin="round" />
<path d="M879.1 1027.0 L906.6 1039.0" fill="none" stroke="#2a2a2a" stroke-width="0.9" stroke-linejoin="round" />
<path d="M879.5 1022.6 L907.0 1034.6" fill="none" stroke="#2a2a2a" stroke-width="0.9" stroke-linejoin="round" />
<path d="M873.7 1026.5 L878.7 1028.7 L879.3 1021.7 L874.3 1019.5 Z" fill="none" stroke="#2a2a2a" stroke-width="0.75" stroke-linejoin="round" />
<path d="M906.2 1040.7 L911.3 1042.9 L911.8 1035.9 L906.8 1033.7 Z" fill="none" stroke="#2a2a2a" stroke-width="0.75" stroke-linejoin="round" />
<path d="M882.4 1010.0 L909.9 1022.0" fill="none" stroke="#2a2a2a" stroke-width="0.9" stroke-linejoin="round" />
<path d="M884.6 1003.7 L912.1 1015.8" fill="none" stroke="#2a2a2a" stroke-width="0.9" stroke-linejoin="round" />
<path d="M876.6 1009.6 L881.6 1011.8 L885.0 1002.0 L880.0 999.8 Z" fill="none" stroke="#2a2a2a" stroke-width="0.75" stroke-linejoin="round" />
<path d="M909.1 1023.8 L914.2 1026.0 L917.6 1016.2 L912.5 1014.0 Z" fill="none" stroke="#2a2a2a" stroke-width="0.75" stroke-linejoin="round" />
<path d="M890.9 989.7 L918.4 1001.7" fill="none" stroke="#2a2a2a" stroke-width="0.9" stroke-linejoin="round" />
<path d="M894.0 984.1 L921.5 996.1" fill="none" stroke="#2a2a2a" stroke-width="0.9" stroke-linejoin="round" />
<path d="M884.9 988.9 L889.9 991.1 L894.9 982.2 L889.9 980.0 Z" fill="none" stroke="#2a2a2a" stroke-width="0.75" stroke-linejoin="round" />
<path d="M917.4 1003.1 L922.5 1005.3 L927.4 996.4 L922.4 994.2 Z" fill="none" stroke="#2a2a2a" stroke-width="0.75" stroke-linejoin="round" />
<path d="M901.3 974.0 L928.7 986.0" fill="none" stroke="#2a2a2a" stroke-width="0.9" stroke-linejoin="round" />
<path d="M904.2 971.1 L931.7 983.1" fill="none" stroke="#2a2a2a" stroke-width="0.9" stroke-linejoin="round" />
<path d="M895.5 972.1 L900.5 974.3 L905.1 969.8 L900.1 967.6 Z" fill="none" stroke="#2a2a2a" stroke-width="0.75" stroke-linejoin="round" />
<path d="M928.0 986.3 L933.1 988.5 L937.7 984.0 L932.6 981.8 Z" fill="none" stroke="#2a2a2a" stroke-width="0.75" stroke-linejoin="round" />
<path d="M948.7 999.9 L939.9 998.8 L939.4 1003.8 L948.1 1005.4" fill="none" stroke="#2a2a2a" stroke-width="0.75" stroke-linejoin="round" />
<path d="M945.1 1016.1 L936.8 1013.3 L934.0 1020.0 L942.0 1023.8" fill="none" stroke="#2a2a2a" stroke-width="0.75" stroke-linejoin="round" />
<path d="M936.3 1034.2 L929.0 1029.3 L925.6 1033.9 L932.5 1039.4" fill="none" stroke="#2a2a2a" stroke-width="0.75" stroke-linejoin="round" />
<path d="M1462.48 583.76 A116.00 50.23 31.60 0 0 1262.72 484.85" fill="none" stroke="#2a2a2a" stroke-width="0.75"/>
<path d="M1457.76 591.43 A116.00 50.23 31.60 1 0 1459.03 599.94" fill="none" stroke="#2a2a2a" stroke-width="0.75"/>
<path d="M1449.49 588.30 A106.50 46.11 31.60 1 0 1450.66 596.12" fill="none" stroke="#2a2a2a" stroke-width="0.75"/>
<path d="M1268.88 493.93 A106.50 46.11 31.60 1 0 1455.37 588.45" fill="none" stroke="#2a2a2a" stroke-width="0.75"/>
<path d="M1258.0 492.5 L1262.7 484.9" fill="none" stroke="#2a2a2a" stroke-width="0.75" stroke-linejoin="round" />
<path d="M1462.5 583.8 L1457.8 591.4 L1449.5 588.3" fill="none" stroke="#2a2a2a" stroke-width="0.75" stroke-linejoin="round" />
<path d="M1459.0 599.9 L1450.7 596.1 L1455.4 588.5 L1463.7 592.3 Z" fill="none" stroke="#2a2a2a" stroke-width="0.75" stroke-linejoin="round" />
<path d="M1385.88 707.46 A116.00 50.23 31.60 0 0 1186.12 608.55" fill="none" stroke="#2a2a2a" stroke-width="0.75"/>
<path d="M1381.16 715.13 A116.00 50.23 31.60 1 0 1382.43 723.64" fill="none" stroke="#2a2a2a" stroke-width="0.75"/>
<path d="M1372.89 712.00 A106.50 46.11 31.60 1 0 1374.06 719.82" fill="none" stroke="#2a2a2a" stroke-width="0.75"/>
<path d="M1192.28 617.63 A106.50 46.11 31.60 1 0 1378.77 712.15" fill="none" stroke="#2a2a2a" stroke-width="0.75"/>
<path d="M1181.4 616.2 L1186.1 608.6" fill="none" stroke="#2a2a2a" stroke-width="0.75" stroke-linejoin="round" />
<path d="M1385.9 707.5 L1381.2 715.1 L1372.9 712.0" fill="none" stroke="#2a2a2a" stroke-width="0.75" stroke-linejoin="round" />
<path d="M1382.4 723.6 L1374.1 719.8 L1378.8 712.2 L1387.1 716.0 Z" fill="none" stroke="#2a2a2a" stroke-width="0.75" stroke-linejoin="round" />
<ellipse cx="1121.30" cy="936.50" rx="113.10" ry="48.97" transform="rotate(31.60 1121.30 936.50)" fill="none" stroke="#2a2a2a" stroke-width="0.75"/>
<ellipse cx="1121.30" cy="936.50" rx="103.60" ry="44.86" transform="rotate(31.60 1121.30 936.50)" fill="none" stroke="#2a2a2a" stroke-width="0.75"/>
<path d="M1308.91 847.39 A113.10 48.97 31.60 0 0 1116.25 728.87" fill="none" stroke="#2a2a2a" stroke-width="0.75"/>
<path d="M1309.26 845.15 A112.50 48.71 31.60 0 0 1118.09 727.54" fill="none" stroke="#2a2a2a" stroke-width="0.75"/>
<path d="M1217.6 995.8 L1308.9 847.4" fill="none" stroke="#2a2a2a" stroke-width="0.75" stroke-linejoin="round" />
<path d="M1025.0 877.2 L1116.2 728.9" fill="none" stroke="#2a2a2a" stroke-width="0.75" stroke-linejoin="round" />
<path d="M1283.91 888.02 A113.10 48.97 31.60 0 0 1091.25 769.49" fill="none" stroke="#2a2a2a" stroke-width="0.75"/>
<path d="M1288.11 881.21 A113.10 48.97 31.60 0 0 1095.45 762.68" fill="none" stroke="#2a2a2a" stroke-width="0.75"/>
<path d="M1292.30 874.39 A113.10 48.97 31.60 0 0 1099.64 755.87" fill="none" stroke="#2a2a2a" stroke-width="0.75"/>
<path d="M1295.44 869.28 A113.10 48.97 31.60 0 0 1102.78 750.76" fill="none" stroke="#2a2a2a" stroke-width="0.75"/>
<path d="M1299.37 862.89 A113.10 48.97 31.60 0 0 1106.71 744.37" fill="none" stroke="#2a2a2a" stroke-width="0.75"/>
<path d="M1047.2 872.2 L1047.1 873.0 L1047.0 873.7 L1046.9 874.5 L1046.8 875.3 L1046.8 876.2 L1046.8 877.0 L1046.8 877.9 L1046.8 878.7 L1046.9 879.6 L1047.0 880.5 L1047.1 881.4 L1047.2 882.3 L1047.4 883.2 L1047.6 884.1 L1047.8 885.0 L1048.1 886.0 L1048.4 886.9 L1048.7 887.9 L1049.0 888.9 L1049.4 889.9 L1049.7 890.9 L1050.1 891.8 L1050.6 892.9 L1051.0 893.9 L1051.5 894.9 L1052.0 895.9 L1052.5 897.0 L1053.1 898.0 L1053.7 899.0 L1054.3 900.1 L1054.9 901.1 L1055.6 902.2 L1056.2 903.3 L1056.9 904.3 L1057.7 905.4 L1058.4 906.5 L1059.2 907.6 L1060.0 908.7 L1060.8 909.7 L1061.6 910.8 L1062.5 911.9 L1063.3 913.0 L1064.2 914.1 L1065.2 915.2 L1066.1 916.3 L1067.1 917.4 L1068.0 918.5 L1069.0 919.6 L1070.1 920.7 L1071.1 921.8 L1072.2 922.9 L1073.2 924.0 L1074.3 925.1 L1075.4 926.1 L1076.6 927.2 L1077.7 928.3 L1078.9 929.4 L1080.1 930.5 L1081.3 931.5 L1082.5 932.6 L1083.7 933.7 L1084.9 934.7 L1086.2 935.8 L1087.5 936.8 L1088.8 937.8 L1090.1 938.9 L1091.4 939.9 L1092.7 940.9 L1094.0 941.9 L1095.4 942.9 L1096.8 943.9 L1098.1 944.9 L1099.5 945.9 L1100.9 946.9 L1102.3 947.8 L1103.7 948.8 L1105.1 949.7 L1106.6 950.7 L1108.0 951.6 L1109.5 952.5 L1110.9 953.4 L1112.4 954.3 L1113.8 955.2 L1115.3 956.0 L1116.8 956.9 L1118.3 957.7 L1119.8 958.6 L1121.2 959.4 L1122.7 960.2 L1124.2 961.0 L1125.7 961.8 L1127.2 962.5 L1128.7 963.3 L1130.3 964.0 L1131.8 964.7 L1133.3 965.5 L1134.8 966.1 L1136.3 966.8 L1137.8 967.5 L1139.3 968.1 L1140.8 968.8 L1142.3 969.4 L1143.8 970.0 L1145.3 970.6 L1146.8 971.2 L1148.3 971.7 L1149.7 972.2 L1151.2 972.8 L1152.7 973.3 L1154.2 973.8 L1155.6 974.2 L1157.1 974.7 L1158.5 975.1 L1160.0 975.5 L1161.4 975.9 L1162.8 976.3 L1164.2 976.7 L1165.6 977.0 L1167.0 977.3 L1168.4 977.7 L1169.8 977.9 L1171.1 978.2 L1172.5 978.5 L1173.8 978.7 L1175.1 978.9 L1176.4 979.1 L1177.7 979.3 L1179.0 979.5 L1180.3 979.6 L1181.5 979.7 L1182.8 979.8 L1184.0 979.9 L1185.2 980.0 L1186.4 980.0 L1187.6 980.0 L1188.8 980.0 L1189.9 980.0 L1191.0 980.0 L1192.1 980.0 L1193.2 979.9 L1194.3 979.8 L1195.4 979.7 L1196.4 979.6 L1197.4 979.4 L1198.4 979.2 L1199.4 979.1 L1200.4 978.9 L1201.3 978.6 L1202.2 978.4 L1203.1 978.1 L1204.0 977.9 L1204.8 977.6 L1205.7 977.3 L1206.5 976.9 L1207.2 976.6 L1208.0 976.2 L1208.8 975.8 L1209.5 975.4 L1210.2 975.0 L1210.8 974.6 L1211.5 974.1 L1212.1 973.6" fill="none" stroke="#2a2a2a" stroke-width="0.75" stroke-linejoin="round" />
<path d="M1046.8 872.5 L1046.6 873.2 L1046.5 874.0 L1046.3 874.8 L1046.2 875.6 L1046.2 876.4 L1046.1 877.2 L1046.1 878.0 L1046.1 878.9 L1046.2 879.7 L1046.3 880.6 L1046.4 881.5 L1046.5 882.4 L1046.6 883.3 L1046.8 884.2 L1047.0 885.1 L1047.2 886.1 L1047.5 887.0 L1047.7 888.0 L1048.0 888.9 L1048.4 889.9 L1048.7 890.9 L1049.1 891.9 L1049.5 892.9 L1049.9 893.9 L1050.4 894.9 L1050.9 895.9 L1051.4 896.9 L1051.9 898.0 L1052.5 899.0 L1053.0 900.1 L1053.7 901.1 L1054.3 902.2 L1054.9 903.2 L1055.6 904.3 L1056.3 905.4 L1057.0 906.4 L1057.8 907.5 L1058.5 908.6 L1059.3 909.7 L1060.1 910.8 L1061.0 911.9 L1061.8 913.0 L1062.7 914.0 L1063.6 915.1 L1064.5 916.2 L1065.5 917.3 L1066.4 918.4 L1067.4 919.5 L1068.4 920.6 L1069.4 921.7 L1070.5 922.8 L1071.5 923.9 L1072.6 925.0 L1073.7 926.1 L1074.8 927.2 L1075.9 928.2 L1077.1 929.3 L1078.3 930.4 L1079.4 931.5 L1080.6 932.5 L1081.8 933.6 L1083.1 934.7 L1084.3 935.7 L1085.6 936.8 L1086.8 937.8 L1088.1 938.9 L1089.4 939.9 L1090.7 940.9 L1092.1 941.9 L1093.4 942.9 L1094.8 944.0 L1096.1 944.9 L1097.5 945.9 L1098.9 946.9 L1100.3 947.9 L1101.7 948.8 L1103.1 949.8 L1104.5 950.7 L1105.9 951.7 L1107.4 952.6 L1108.8 953.5 L1110.3 954.4 L1111.7 955.3 L1113.2 956.2 L1114.7 957.1 L1116.2 957.9 L1117.6 958.8 L1119.1 959.6 L1120.6 960.4 L1122.1 961.2 L1123.6 962.0 L1125.1 962.8 L1126.6 963.5 L1128.1 964.3 L1129.6 965.0 L1131.1 965.8 L1132.6 966.5 L1134.1 967.2 L1135.7 967.8 L1137.2 968.5 L1138.7 969.2 L1140.2 969.8 L1141.7 970.4 L1143.2 971.0 L1144.7 971.6 L1146.2 972.2 L1147.6 972.7 L1149.1 973.3 L1150.6 973.8 L1152.1 974.3 L1153.5 974.8 L1155.0 975.2 L1156.4 975.7 L1157.9 976.1 L1159.3 976.6 L1160.8 977.0 L1162.2 977.3 L1163.6 977.7 L1165.0 978.0 L1166.4 978.4 L1167.8 978.7 L1169.1 979.0 L1170.5 979.2 L1171.8 979.5 L1173.2 979.7 L1174.5 979.9 L1175.8 980.1 L1177.1 980.3 L1178.4 980.5 L1179.7 980.6 L1180.9 980.7 L1182.2 980.8 L1183.4 980.9 L1184.6 981.0 L1185.8 981.0 L1187.0 981.1 L1188.1 981.1 L1189.3 981.1 L1190.4 981.0 L1191.5 981.0 L1192.6 980.9 L1193.7 980.8 L1194.7 980.7 L1195.8 980.6 L1196.8 980.4 L1197.8 980.3 L1198.8 980.1 L1199.7 979.9 L1200.7 979.7 L1201.6 979.4 L1202.5 979.2 L1203.3 978.9 L1204.2 978.6 L1205.0 978.3 L1205.8 977.9 L1206.6 977.6 L1207.4 977.2 L1208.1 976.8 L1208.8 976.4 L1209.5 976.0 L1210.2 975.6 L1210.9 975.1 L1211.5 974.6 L1212.1 974.2" fill="none" stroke="#2a2a2a" stroke-width="0.75" stroke-linejoin="round" />
<path d="M1054.1 871.1 L1054.3 872.0 L1054.5 872.9 L1054.7 873.9 L1055.0 874.8 L1055.2 875.8 L1055.5 876.7 L1055.9 877.7 L1056.2 878.7 L1056.6 879.7 L1057.0 880.7 L1057.4 881.7 L1057.9 882.7 L1058.4 883.7 L1058.9 884.8 L1059.4 885.8 L1060.0 886.8 L1060.5 887.9 L1061.1 888.9 L1061.8 890.0 L1062.4 891.0 L1063.1 892.1 L1063.8 893.2 L1064.5 894.3 L1065.3 895.3 L1066.0 896.4 L1066.8 897.5 L1067.6 898.6 L1068.5 899.7 L1069.3 900.8 L1070.2 901.9 L1071.1 903.0 L1072.0 904.1 L1073.0 905.1 L1073.9 906.2 L1074.9 907.3 L1075.9 908.4 L1076.9 909.5 L1078.0 910.6 L1079.0 911.7 L1080.1 912.8 L1081.2 913.9 L1082.3 915.0 L1083.4 916.1 L1084.6 917.1 L1085.7 918.2 L1086.9 919.3 L1088.1 920.4 L1089.3 921.4 L1090.6 922.5 L1091.8 923.5 L1093.1 924.6 L1094.3 925.6 L1095.6 926.7 L1096.9 927.7 L1098.2 928.7 L1099.6 929.8 L1100.9 930.8 L1102.3 931.8 L1103.6 932.8 L1105.0 933.8 L1106.4 934.7 L1107.8 935.7 L1109.2 936.7 L1110.6 937.6 L1112.0 938.6 L1113.4 939.5 L1114.9 940.4 L1116.3 941.3 L1117.8 942.2 L1119.2 943.1 L1120.7 944.0 L1122.2 944.9 L1123.6 945.7 L1125.1 946.6 L1126.6 947.4 L1128.1 948.2 L1129.6 949.0 L1131.1 949.8 L1132.6 950.6 L1134.1 951.4 L1135.6 952.1 L1137.1 952.9 L1138.6 953.6 L1140.1 954.3 L1141.6 955.0 L1143.1 955.7 L1144.7 956.3 L1146.2 957.0 L1147.7 957.6 L1149.2 958.2 L1150.7 958.8 L1152.2 959.4 L1153.6 960.0 L1155.1 960.6 L1156.6 961.1 L1158.1 961.6 L1159.6 962.1 L1161.0 962.6 L1162.5 963.1 L1163.9 963.5 L1165.4 964.0 L1166.8 964.4 L1168.2 964.8 L1169.7 965.2 L1171.1 965.5 L1172.5 965.9 L1173.9 966.2 L1175.3 966.5 L1176.6 966.8 L1178.0 967.1 L1179.3 967.3 L1180.7 967.5 L1182.0 967.8 L1183.3 968.0 L1184.6 968.1 L1185.9 968.3 L1187.2 968.4 L1188.4 968.6 L1189.7 968.7 L1190.9 968.7 L1192.1 968.8 L1193.3 968.9 L1194.5 968.9 L1195.6 968.9 L1196.8 968.9 L1197.9 968.8 L1199.0 968.8 L1200.1 968.7 L1201.2 968.6 L1202.2 968.5 L1203.3 968.4 L1204.3 968.3 L1205.3 968.1 L1206.3 967.9 L1207.2 967.7 L1208.2 967.5 L1209.1 967.2 L1210.0 967.0" fill="none" stroke="#2a2a2a" stroke-width="0.75" stroke-linejoin="round" />
<path d="M1054.9 871.0 L1055.1 871.9 L1055.3 872.9 L1055.6 873.8 L1055.9 874.8 L1056.2 875.7 L1056.5 876.7 L1056.9 877.7 L1057.2 878.7 L1057.6 879.7 L1058.1 880.7 L1058.5 881.7 L1059.0 882.7 L1059.5 883.7 L1060.0 884.8 L1060.6 885.8 L1061.2 886.9 L1061.8 887.9 L1062.4 889.0 L1063.1 890.0 L1063.7 891.1 L1064.4 892.2 L1065.1 893.2 L1065.9 894.3 L1066.7 895.4 L1067.4 896.5 L1068.3 897.6 L1069.1 898.7 L1069.9 899.8 L1070.8 900.8 L1071.7 901.9 L1072.6 903.0 L1073.6 904.1 L1074.5 905.2 L1075.5 906.3 L1076.5 907.4 L1077.5 908.5 L1078.6 909.6 L1079.6 910.7 L1080.7 911.8 L1081.8 912.9 L1082.9 914.0 L1084.1 915.0 L1085.2 916.1 L1086.4 917.2 L1087.6 918.3 L1088.8 919.3 L1090.0 920.4 L1091.2 921.5 L1092.4 922.5 L1093.7 923.6 L1095.0 924.6 L1096.3 925.7 L1097.6 926.7 L1098.9 927.7 L1100.2 928.7 L1101.5 929.7 L1102.9 930.8 L1104.2 931.7 L1105.6 932.7 L1107.0 933.7 L1108.4 934.7 L1109.8 935.6 L1111.2 936.6 L1112.6 937.5 L1114.1 938.5 L1115.5 939.4 L1116.9 940.3 L1118.4 941.2 L1119.9 942.1 L1121.3 943.0 L1122.8 943.9 L1124.3 944.7 L1125.8 945.6 L1127.2 946.4 L1128.7 947.2 L1130.2 948.0 L1131.7 948.8 L1133.2 949.6 L1134.7 950.3 L1136.2 951.1 L1137.7 951.8 L1139.3 952.6 L1140.8 953.3 L1142.3 954.0 L1143.8 954.6 L1145.3 955.3 L1146.8 956.0 L1148.3 956.6 L1149.8 957.2 L1151.3 957.8 L1152.8 958.4 L1154.3 959.0 L1155.8 959.5 L1157.2 960.1 L1158.7 960.6 L1160.2 961.1 L1161.7 961.6 L1163.1 962.0 L1164.6 962.5 L1166.0 962.9 L1167.4 963.4 L1168.9 963.7 L1170.3 964.1 L1171.7 964.5 L1173.1 964.8 L1174.5 965.2 L1175.9 965.5 L1177.3 965.8 L1178.6 966.0 L1180.0 966.3 L1181.3 966.5 L1182.6 966.7 L1183.9 966.9 L1185.2 967.1 L1186.5 967.3 L1187.8 967.4 L1189.0 967.5 L1190.3 967.6 L1191.5 967.7 L1192.7 967.8 L1193.9 967.8 L1195.1 967.9 L1196.3 967.9 L1197.4 967.9 L1198.5 967.8 L1199.6 967.8 L1200.7 967.7 L1201.8 967.6 L1202.9 967.5 L1203.9 967.4 L1204.9 967.2 L1205.9 967.1 L1206.9 966.9 L1207.8 966.7 L1208.8 966.5 L1209.7 966.2" fill="none" stroke="#2a2a2a" stroke-width="0.75" stroke-linejoin="round" />
<path d="M1145.6 899.3 L1110.8 953.7" fill="none" stroke="#2a2a2a" stroke-width="1.1" stroke-linejoin="round" />
<path d="M1189.1 935.5 L1163.0 976.1" fill="none" stroke="#2a2a2a" stroke-width="0.75" stroke-linejoin="round" />
<path d="M1281.3 873.5 L1281.4 873.5 L1281.5 873.6 L1281.6 873.7 L1281.7 873.7 L1281.8 873.8 L1281.9 873.9 L1282.0 874.0 L1282.1 874.1 L1282.2 874.2 L1282.2 874.3 L1282.3 874.4 L1282.4 874.6 L1282.4 874.7 L1282.5 874.8 L1282.6 875.0 L1282.6 875.1 L1282.7 875.3 L1282.7 875.4 L1282.8 875.6 L1282.8 875.8 L1282.9 876.0 L1282.9 876.2 L1282.9 876.4 L1283.0 876.6 L1283.0 876.8 L1283.0 877.0 L1283.0 877.2 L1283.0 877.4 L1283.1 877.7 L1283.1 877.9 L1283.1 878.2 L1283.1 878.4 L1283.1 878.7 L1283.1 878.9 L1283.0 879.2 L1283.0 879.5 L1283.0 879.7 L1283.0 880.0 L1283.0 880.3 L1282.9 880.6 L1282.9 880.9 L1282.9 881.2 L1282.8 881.5 L1282.8 881.8 L1282.8 882.1 L1282.7 882.4 L1282.6 882.8 L1282.6 883.1 L1282.5 883.4 L1282.5 883.7 L1282.4 884.1 L1282.3 884.4 L1282.3 884.8 L1282.2 885.1 L1282.1 885.5 L1282.0 885.8 L1281.9 886.2 L1281.8 886.6 L1281.8 886.9 L1281.7 887.3 L1281.6 887.7 L1281.5 888.0 L1281.4 888.4 L1281.2 888.8 L1281.1 889.2 L1281.0 889.6 L1280.9 889.9 L1280.8 890.3 L1280.7 890.7 L1280.5 891.1 L1280.4 891.5 L1280.3 891.9 L1280.1 892.3 L1280.0 892.7 L1279.9 893.1 L1279.7 893.5 L1279.6 893.9 L1279.4 894.3 L1279.3 894.7 L1279.1 895.1 L1279.0 895.5 L1278.8 895.9 L1278.7 896.3 L1278.5 896.7" fill="none" stroke="#2a2a2a" stroke-width="0.75" stroke-linejoin="round" />
<path d="M1265.5 917.7 L1265.4 917.9 L1265.2 918.0 L1265.0 918.2 L1264.8 918.3 L1264.7 918.4 L1264.5 918.5 L1264.3 918.7 L1264.2 918.8 L1264.0 918.9 L1263.9 918.9 L1263.7 919.0 L1263.5 919.1 L1263.4 919.2 L1263.2 919.2 L1263.1 919.3 L1262.9 919.3 L1262.8 919.4 L1262.7 919.4 L1262.5 919.4 L1262.4 919.4 L1262.2 919.5 L1262.1 919.5 L1262.0 919.5 L1261.9 919.5 L1261.7 919.4 L1261.6 919.4 L1261.5 919.4 L1261.4 919.4 L1261.3 919.3 L1261.2 919.3 L1261.1 919.2 L1261.0 919.1 L1260.9 919.1 L1260.8 919.0 L1260.7 918.9 L1260.6 918.8 L1260.5 918.7 L1260.4 918.6 L1260.4 918.5 L1260.3 918.4 L1260.2 918.2 L1260.2 918.1 L1260.1 918.0 L1260.0 917.8 L1260.0 917.7 L1259.9 917.5 L1259.9 917.4 L1259.8 917.2 L1259.8 917.0 L1259.7 916.8 L1259.7 916.6 L1259.7 916.4 L1259.6 916.2 L1259.6 916.0 L1259.6 915.8 L1259.6 915.6 L1259.6 915.4 L1259.5 915.1 L1259.5 914.9 L1259.5 914.6 L1259.5 914.4 L1259.5 914.1 L1259.5 913.9 L1259.6 913.6 L1259.6 913.3 L1259.6 913.1 L1259.6 912.8 L1259.6 912.5 L1259.7 912.2 L1259.7 911.9 L1259.7 911.6 L1259.8 911.3 L1259.8 911.0 L1259.8 910.7 L1259.9 910.4 L1260.0 910.0 L1260.0 909.7 L1260.1 909.4 L1260.1 909.1 L1260.2 908.7 L1260.3 908.4 L1260.3 908.0 L1260.4 907.7 L1260.5 907.3 L1260.6 907.0 L1260.7 906.6 L1260.8 906.2 L1260.8 905.9 L1260.9 905.5 L1261.0 905.1 L1261.1 904.8 L1261.2 904.4 L1261.4 904.0 L1261.5 903.6 L1261.6 903.2 L1261.7 902.9 L1261.8 902.5 L1261.9 902.1 L1262.1 901.7 L1262.2 901.3 L1262.3 900.9 L1262.5 900.5 L1262.6 900.1 L1262.7 899.7 L1262.9 899.3 L1263.0 898.9 L1263.2 898.5 L1263.3 898.1 L1263.5 897.7 L1263.6 897.3 L1263.8 896.9 L1263.9 896.5 L1264.1 896.1 L1264.3 895.7 L1264.4 895.3 L1264.6 894.9 L1264.8 894.5 L1264.9 894.1 L1265.1 893.7 L1265.3 893.3 L1265.5 892.9 L1265.6 892.5 L1265.8 892.1 L1266.0 891.7 L1266.2 891.3 L1266.4 890.9 L1266.6 890.5 L1266.8 890.1 L1266.9 889.8 L1267.1 889.4 L1267.3 889.0 L1267.5 888.6 L1267.7 888.2 L1267.9 887.9 L1268.1 887.5 L1268.3 887.1 L1268.5 886.8 L1268.7 886.4 L1268.9 886.0 L1269.1 885.7 L1269.3 885.3 L1269.5 885.0 L1269.7 884.6 L1269.9 884.3 L1270.1 883.9 L1270.3 883.6 L1270.5 883.3 L1270.7 882.9 L1270.9 882.6 L1271.2 882.3 L1271.4 882.0 L1271.6 881.7 L1271.8 881.3 L1272.0 881.0 L1272.2 880.7 L1272.4 880.5 L1272.6 880.2 L1272.8 879.9 L1273.0 879.6 L1273.2 879.3 L1273.4 879.1 L1273.6 878.8 L1273.8 878.5 L1274.0 878.3 L1274.2 878.0 L1274.4 877.8 L1274.6 877.6 L1274.8 877.3 L1275.0 877.1 L1275.2 876.9 L1275.4 876.7 L1275.6 876.5 L1275.8 876.3 L1276.0 876.1 L1276.1 875.9 L1276.3 875.7 L1276.5 875.5 L1276.7 875.4 L1276.9 875.2 L1277.1 875.1 L1277.2 874.9 L1277.4 874.8 L1277.6 874.6 L1277.8 874.5 L1277.9 874.4 L1278.1 874.3 L1278.3 874.1 L1278.4 874.0 L1278.6 873.9 L1278.7 873.9 L1278.9 873.8 L1279.1 873.7 L1279.2 873.6 L1279.4 873.6 L1279.5 873.5 L1279.7 873.5 L1279.8 873.4 L1279.9 873.4 L1280.1 873.4 L1280.2 873.4 L1280.4 873.3 L1280.5 873.3 L1280.6 873.3 L1280.7 873.3 L1280.9 873.4 L1281.0 873.4 L1281.1 873.4 L1281.2 873.4 L1281.3 873.5" fill="none" stroke="#2a2a2a" stroke-width="0.75" stroke-linejoin="round" />
<path d="M759.8 939.7 L794.4 954.7" fill="none" stroke="#ff2d2d" stroke-width="0.9" stroke-linejoin="round" />
<path d="M815.2 963.7 L823.2 967.2" fill="none" stroke="#ff2d2d" stroke-width="0.9" stroke-linejoin="round" />
<path d="M831.8 970.9 L874.8 990.0" fill="none" stroke="#ff2d2d" stroke-width="0.9" stroke-linejoin="round" />
<path d="M946.6 1021.5 L954.4 1024.8" fill="none" stroke="#ff2d2d" stroke-width="0.9" stroke-linejoin="round" />
<path d="M963.1 1028.8 L1006.5 1046.5" fill="none" stroke="#ff2d2d" stroke-width="0.9" stroke-linejoin="round" />
<path d="M1069.5 1075.6 L1097.8 1087.6" fill="none" stroke="#ff2d2d" stroke-width="0.9" stroke-linejoin="round" />
<path d="M1110.0 1093.5 L1139.1 1105.8" fill="none" stroke="#ff2d2d" stroke-width="0.9" stroke-linejoin="round" />
<path d="M1070.2 1019.6 L1093.4 982.7" fill="none" stroke="#ff2d2d" stroke-width="0.9" stroke-linejoin="round" />
<path d="M1098.7 974.0 L1104.0 966.0" fill="none" stroke="#ff2d2d" stroke-width="0.9" stroke-linejoin="round" />
<path d="M1108.6 957.6 L1144.1 900.7" fill="none" stroke="#ff2d2d" stroke-width="0.9" stroke-linejoin="round" />
<path d="M1239.3 743.4 L1263.5 704.2" fill="none" stroke="#ff2d2d" stroke-width="0.9" stroke-linejoin="round" />
<path d="M1268.5 695.5 L1273.7 687.4" fill="none" stroke="#ff2d2d" stroke-width="0.9" stroke-linejoin="round" />
<path d="M1278.5 679.3 L1282.6 673.1" fill="none" stroke="#ff2d2d" stroke-width="0.9" stroke-linejoin="round" />
<path d="M1311.2 626.0 L1335.7 586.2" fill="none" stroke="#ff2d2d" stroke-width="0.9" stroke-linejoin="round" />
<path d="M1340.4 577.7 L1345.7 569.8" fill="none" stroke="#ff2d2d" stroke-width="0.9" stroke-linejoin="round" />
<path d="M1350.4 561.7 L1358.5 549.0" fill="none" stroke="#ff2d2d" stroke-width="0.9" stroke-linejoin="round" />
<path d="M425.54 1229.93 A23.00 6.21 -66.40 0 1 443.96 1187.77" fill="none" stroke="#2a2a2a" stroke-width="0.75"/>
<path d="M427.49 1232.97 A25.00 6.75 -66.40 0 1 447.50 1187.15" fill="none" stroke="#2a2a2a" stroke-width="0.75"/>
<path d="M447.5 1187.1 L487.8 1204.9" fill="none" stroke="#2a2a2a" stroke-width="0.75" stroke-linejoin="round" />
<path d="M427.5 1233.0 L467.8 1250.7" fill="none" stroke="#2a2a2a" stroke-width="0.75" stroke-linejoin="round" />
<path d="M444.0 1187.8 L447.5 1187.1" fill="none" stroke="#2a2a2a" stroke-width="0.75" stroke-linejoin="round" />
<path d="M425.5 1229.9 L427.5 1233.0" fill="none" stroke="#2a2a2a" stroke-width="0.75" stroke-linejoin="round" />
<path d="M467.76 1250.69 A25.00 6.75 -66.40 0 1 487.78 1204.87" fill="none" stroke="#2a2a2a" stroke-width="0.75"/>
<path d="M469.31 1249.75 A23.60 6.37 -66.40 0 1 488.14 1206.66" fill="none" stroke="#2a2a2a" stroke-width="0.75"/>
<path d="M473.28 1260.54 A31.80 8.59 -66.40 0 1 498.74 1202.26" fill="none" stroke="#2a2a2a" stroke-width="0.75"/>
<path d="M498.7 1202.3 L573.2 1223.8" fill="none" stroke="#2a2a2a" stroke-width="0.75" stroke-linejoin="round" />
<path d="M473.3 1260.5 L539.4 1300.9" fill="none" stroke="#2a2a2a" stroke-width="0.75" stroke-linejoin="round" />
<path d="M539.45 1300.91 A42.10 11.37 -66.40 0 1 573.16 1223.76" fill="none" stroke="#2a2a2a" stroke-width="0.75"/>
<path d="M573.2 1223.8 L693.0 1276.5" fill="none" stroke="#2a2a2a" stroke-width="0.75" stroke-linejoin="round" />
<path d="M539.4 1300.9 L659.3 1353.6" fill="none" stroke="#2a2a2a" stroke-width="0.75" stroke-linejoin="round" />
<path d="M659.22 1353.72 A42.20 11.39 -66.40 0 1 693.01 1276.38" fill="none" stroke="#2a2a2a" stroke-width="0.75"/>
<path d="M664.43 1359.29 A45.20 12.20 -66.40 0 1 700.62 1276.45" fill="none" stroke="#2a2a2a" stroke-width="0.75"/>
<path d="M673.33 1367.14 A48.80 13.18 -66.40 0 1 712.40 1277.71" fill="none" stroke="#2a2a2a" stroke-width="0.75"/>
<path d="M659.2 1353.7 C659.7 1354.1 660.5 1354.7 661.8 1356.1 C663.1 1357.4 665.0 1360.1 666.9 1361.9 C668.8 1363.8 672.3 1366.3 673.3 1367.1" fill="none" stroke="#2a2a2a" stroke-width="0.75"/>
<path d="M693.0 1276.4 C693.6 1276.4 694.7 1276.5 696.6 1276.4 C698.5 1276.4 701.7 1275.9 704.4 1276.1 C707.0 1276.3 711.1 1277.4 712.4 1277.7" fill="none" stroke="#2a2a2a" stroke-width="0.75"/>
<path d="M712.4 1277.7 L728.6 1284.8" fill="none" stroke="#2a2a2a" stroke-width="0.75" stroke-linejoin="round" />
<path d="M673.3 1367.1 L689.5 1374.3" fill="none" stroke="#2a2a2a" stroke-width="0.75" stroke-linejoin="round" />
<path d="M690.41 1435.95 A104.90 28.32 -66.40 0 1 774.41 1243.70" fill="none" stroke="#2a2a2a" stroke-width="0.75"/>
<path d="M774.4 1243.7 L828.0 1267.3" fill="none" stroke="#2a2a2a" stroke-width="0.75" stroke-linejoin="round" />
<path d="M690.4 1435.9 L720.3 1449.1" fill="none" stroke="#2a2a2a" stroke-width="0.75" stroke-linejoin="round" />
<path d="M729.35 1491.21 A139.80 37.75 -66.40 0 1 778.76 1293.36" fill="none" stroke="#2a2a2a" stroke-width="0.75"/>
<path d="M750.01 1510.35 A149.00 40.23 -66.40 0 1 806.95 1292.56" fill="none" stroke="#2a2a2a" stroke-width="0.75"/>
<path d="M769.20 1519.89 A150.00 40.50 -66.40 0 1 824.06 1304.58" fill="none" stroke="#2a2a2a" stroke-width="0.75"/>
<path d="M792.59 1512.27 A150.00 40.50 -66.40 0 1 769.20 1519.89" fill="none" stroke="#2a2a2a" stroke-width="0.75"/>
<path d="M729.3 1491.2 L750.0 1510.4" fill="none" stroke="#2a2a2a" stroke-width="0.75" stroke-linejoin="round" />
<path d="M750.0 1510.4 L769.2 1519.9" fill="none" stroke="#2a2a2a" stroke-width="0.75" stroke-linejoin="round" />
<path d="M803.06 1534.79 A150.00 40.50 -66.40 0 1 849.99 1332.94" fill="none" stroke="#2a2a2a" stroke-width="0.75"/>
<path d="M821.24 1544.64 A151.70 40.96 -66.40 0 1 875.48 1328.93" fill="none" stroke="#2a2a2a" stroke-width="0.75"/>
<path d="M803.1 1534.8 L821.2 1544.6" fill="none" stroke="#2a2a2a" stroke-width="0.75" stroke-linejoin="round" />
<path d="M821.2 1544.6 L854.5 1547.0" fill="none" stroke="#2a2a2a" stroke-width="0.75" stroke-linejoin="round" />
<path d="M881.43 1535.51 A140.50 37.94 -66.40 0 1 904.13 1348.19" fill="none" stroke="#2a2a2a" stroke-width="0.75"/>
<path d="M874.49 1539.05 A135.00 36.45 -66.40 0 1 903.55 1355.23" fill="none" stroke="#2a2a2a" stroke-width="0.75"/>
<path d="M866.43 1513.40 A104.90 28.32 -66.40 0 1 950.42 1321.14" fill="none" stroke="#2a2a2a" stroke-width="0.75"/>
<path d="M950.4 1321.1 L1003.1 1344.3" fill="none" stroke="#2a2a2a" stroke-width="0.75" stroke-linejoin="round" />
<path d="M866.4 1513.4 L919.1 1536.6" fill="none" stroke="#2a2a2a" stroke-width="0.75" stroke-linejoin="round" />
<path d="M1003.1 1344.3 L1003.5 1344.5 L1003.9 1344.8 L1004.4 1345.0 L1004.8 1345.3 L1005.2 1345.7 L1005.5 1346.0 L1005.9 1346.4 L1006.3 1346.8 L1006.6 1347.3 L1006.9 1347.7 L1007.2 1348.2 L1007.5 1348.8 L1007.8 1349.3 L1008.1 1349.9 L1008.3 1350.5 L1008.6 1351.2 L1008.8 1351.8 L1009.0 1352.5 L1009.2 1353.2 L1009.4 1354.0 L1009.6 1354.8 L1009.7 1355.6 L1009.9 1356.4 L1010.0 1357.2 L1010.1 1358.1 L1010.2 1359.0 L1010.3 1359.9 L1010.3 1360.9 L1010.4 1361.9 L1010.4 1362.9 L1010.4 1363.9 L1010.4 1364.9 L1010.4 1366.0 L1010.4 1367.1 L1010.3 1368.2 L1010.3 1369.3 L1010.2 1370.5 L1010.1 1371.7 L1010.0 1372.9 L1009.9 1374.1 L1009.8 1375.3 L1009.6 1376.6 L1009.5 1377.9 L1009.3 1379.2 L1009.1 1380.5 L1008.9 1381.8 L1008.7 1383.2 L1008.4 1384.5 L1008.2 1385.9 L1007.9 1387.3 L1007.7 1388.7 L1007.4 1390.2 L1007.1 1391.6 L1006.7 1393.1 L1006.4 1394.6 L1006.1 1396.1 L1005.7 1397.6 L1005.3 1399.1 L1004.9 1400.6 L1004.5 1402.2 L1004.1 1403.7 L1003.7 1405.3 L1003.2 1406.9 L1002.8 1408.5 L1002.3 1410.1 L1001.8 1411.7 L1001.4 1413.3 L1000.9 1414.9 L1000.3 1416.6" fill="none" stroke="#2a2a2a" stroke-width="0.75" stroke-linejoin="round" />
<path d="M970.2 1485.5 L969.4 1487.0 L968.5 1488.4 L967.7 1489.9 L966.8 1491.3 L966.0 1492.8 L965.1 1494.2 L964.3 1495.6 L963.4 1496.9 L962.5 1498.3 L961.7 1499.7 L960.8 1501.0 L959.9 1502.3 L959.1 1503.6 L958.2 1504.9 L957.4 1506.1 L956.5 1507.3 L955.7 1508.5 L954.8 1509.7 L953.9 1510.9 L953.1 1512.1 L952.2 1513.2 L951.4 1514.3 L950.6 1515.4 L949.7 1516.4 L948.9 1517.5 L948.0 1518.5 L947.2 1519.5 L946.4 1520.4 L945.6 1521.4 L944.8 1522.3 L943.9 1523.2 L943.1 1524.0 L942.3 1524.9 L941.5 1525.7 L940.8 1526.5 L940.0 1527.2 L939.2 1528.0 L938.4 1528.7 L937.7 1529.3 L936.9 1530.0 L936.2 1530.6 L935.4 1531.2 L934.7 1531.8 L934.0 1532.3 L933.2 1532.9 L932.5 1533.3 L931.8 1533.8 L931.1 1534.2 L930.5 1534.6 L929.8 1535.0 L929.1 1535.4 L928.5 1535.7 L927.8 1536.0 L927.2 1536.2 L926.6 1536.4 L926.0 1536.6 L925.4 1536.8 L924.8 1537.0 L924.2 1537.1 L923.6 1537.1 L923.1 1537.2 L922.5 1537.2 L922.0 1537.2 L921.5 1537.2 L921.0 1537.1 L920.5 1537.0 L920.0 1536.9 L919.5 1536.7 L919.1 1536.6 L918.6 1536.3 L918.2 1536.1 L917.8 1535.8 L917.3 1535.5 L917.0 1535.2 L916.6 1534.8 L916.2 1534.5 L915.9 1534.0 L915.5 1533.6 L915.2 1533.1 L914.9 1532.6 L914.6 1532.1 L914.3 1531.5 L914.0 1531.0 L913.8 1530.3 L913.5 1529.7 L913.3 1529.0 L913.1 1528.3 L912.9 1527.6 L912.7 1526.9 L912.5 1526.1 L912.4 1525.3 L912.3 1524.5 L912.1 1523.6 L912.0 1522.8 L911.9 1521.9 L911.9 1520.9 L911.8 1520.0 L911.7 1519.0 L911.7 1518.0 L911.7 1517.0 L911.7 1515.9 L911.7 1514.9 L911.7 1513.8 L911.8 1512.7 L911.8 1511.5 L911.9 1510.4 L912.0 1509.2 L912.1 1508.0 L912.2 1506.8 L912.3 1505.5 L912.5 1504.3 L912.6 1503.0 L912.8 1501.7 L913.0 1500.4 L913.2 1499.0 L913.4 1497.7 L913.7 1496.3 L913.9 1494.9 L914.2 1493.5 L914.5 1492.1 L914.7 1490.7 L915.1 1489.2 L915.4 1487.8 L915.7 1486.3 L916.1 1484.8 L916.4 1483.3 L916.8 1481.8 L917.2 1480.2 L917.6 1478.7 L918.0 1477.1 L918.4 1475.5 L918.9 1474.0 L919.3 1472.4 L919.8 1470.8 L920.3 1469.2 L920.8 1467.6 L921.3 1465.9 L921.8 1464.3 L922.3 1462.7 L922.8 1461.0 L923.4 1459.3 L924.0 1457.7 L924.5 1456.0 L925.1 1454.4 L925.7 1452.7 L926.3 1451.0 L926.9 1449.3 L927.6 1447.6 L928.2 1446.0 L928.8 1444.3 L929.5 1442.6 L930.2 1440.9 L930.9 1439.2 L931.5 1437.5 L932.2 1435.8 L932.9 1434.1 L933.7 1432.5 L934.4 1430.8 L935.1 1429.1 L935.8 1427.4 L936.6 1425.7 L937.3 1424.1 L938.1 1422.4 L938.9 1420.8 L939.6 1419.1 L940.4 1417.5 L941.2 1415.8 L942.0 1414.2 L942.8 1412.6 L943.6 1411.0 L944.4 1409.4 L945.2 1407.8 L946.0 1406.2 L946.9 1404.6 L947.7 1403.0 L948.5 1401.5 L949.3 1399.9 L950.2 1398.4 L951.0 1396.9 L951.9 1395.4 L952.7 1393.9 L953.6 1392.4 L954.4 1391.0 L955.3 1389.5 L956.1 1388.1 L957.0 1386.7 L957.9 1385.3 L958.7 1383.9 L959.6 1382.5 L960.4 1381.2 L961.3 1379.9 L962.2 1378.6 L963.0 1377.3 L963.9 1376.0 L964.7 1374.8 L965.6 1373.5 L966.5 1372.3 L967.3 1371.1 L968.2 1370.0 L969.0 1368.8 L969.9 1367.7 L970.7 1366.6 L971.6 1365.5 L972.4 1364.4 L973.2 1363.4 L974.1 1362.4 L974.9 1361.4 L975.7 1360.4 L976.5 1359.5 L977.4 1358.6 L978.2 1357.7 L979.0 1356.8 L979.8 1356.0 L980.6 1355.2 L981.4 1354.4 L982.1 1353.6 L982.9 1352.9 L983.7 1352.2 L984.4 1351.5 L985.2 1350.9 L986.0 1350.2 L986.7 1349.6 L987.4 1349.1 L988.1 1348.5 L988.9 1348.0 L989.6 1347.5 L990.3 1347.1 L991.0 1346.6 L991.6 1346.2 L992.3 1345.8 L993.0 1345.5 L993.6 1345.2 L994.3 1344.9 L994.9 1344.6 L995.5 1344.4 L996.1 1344.2 L996.7 1344.0 L997.3 1343.9 L997.9 1343.8 L998.5 1343.7 L999.0 1343.7 L999.6 1343.6 L1000.1 1343.6 L1000.6 1343.7 L1001.1 1343.7 L1001.6 1343.8 L1002.1 1344.0 L1002.6 1344.1 L1003.1 1344.3" fill="none" stroke="#2a2a2a" stroke-width="0.75" stroke-linejoin="round" />
<path d="M996.5 1359.3 L996.9 1359.5 L997.2 1359.7 L997.6 1359.9 L997.9 1360.2 L998.3 1360.5 L998.6 1360.8 L998.9 1361.1 L999.2 1361.5 L999.5 1361.8 L999.7 1362.2 L1000.0 1362.6 L1000.3 1363.1 L1000.5 1363.6 L1000.7 1364.1 L1000.9 1364.6 L1001.1 1365.1 L1001.3 1365.7 L1001.5 1366.3 L1001.7 1366.9 L1001.8 1367.5 L1002.0 1368.1 L1002.1 1368.8 L1002.2 1369.5 L1002.3 1370.2 L1002.4 1371.0 L1002.5 1371.7 L1002.6 1372.5 L1002.6 1373.3 L1002.7 1374.1 L1002.7 1375.0 L1002.7 1375.8 L1002.7 1376.7 L1002.7 1377.6 L1002.7 1378.5 L1002.6 1379.5 L1002.6 1380.4 L1002.5 1381.4 L1002.5 1382.4 L1002.4 1383.4 L1002.3 1384.5 L1002.2 1385.5 L1002.0 1386.6 L1001.9 1387.6 L1001.8 1388.7 L1001.6 1389.8 L1001.4 1391.0 L1001.2 1392.1 L1001.0 1393.3 L1000.8 1394.4 L1000.6 1395.6 L1000.4 1396.8 L1000.1 1398.0 L999.9 1399.3 L999.6 1400.5 L999.3 1401.7 L999.0 1403.0 L998.7 1404.3 L998.4 1405.6 L998.1 1406.9 L997.7 1408.2 L997.4 1409.5 L997.0 1410.8 L996.6 1412.1 L996.3 1413.5 L995.9 1414.8" fill="none" stroke="#2a2a2a" stroke-width="0.75" stroke-linejoin="round" />
<path d="M965.9 1483.4 L965.2 1484.6 L964.5 1485.8 L963.8 1486.9 L963.0 1488.1 L962.3 1489.3 L961.6 1490.4 L960.8 1491.5 L960.1 1492.6 L959.4 1493.7 L958.7 1494.8 L957.9 1495.8 L957.2 1496.9 L956.5 1497.9 L955.8 1498.9 L955.1 1499.9 L954.3 1500.9 L953.6 1501.8 L952.9 1502.7 L952.2 1503.6 L951.5 1504.5 L950.8 1505.4 L950.1 1506.3 L949.4 1507.1 L948.7 1507.9 L948.0 1508.7 L947.3 1509.5 L946.6 1510.2 L945.9 1511.0 L945.3 1511.7 L944.6 1512.3 L943.9 1513.0 L943.3 1513.7 L942.6 1514.3 L942.0 1514.9 L941.3 1515.4 L940.7 1516.0 L940.1 1516.5 L939.4 1517.0 L938.8 1517.5 L938.2 1518.0 L937.6 1518.4 L937.0 1518.8 L936.4 1519.2 L935.8 1519.6 L935.2 1519.9 L934.7 1520.2 L934.1 1520.5 L933.6 1520.8 L933.0 1521.0 L932.5 1521.2 L932.0 1521.4 L931.5 1521.6 L930.9 1521.7 L930.5 1521.9 L930.0 1522.0 L929.5 1522.0 L929.0 1522.1 L928.6 1522.1 L928.1 1522.1 L927.7 1522.1 L927.2 1522.0 L926.8 1521.9 L926.4 1521.8 L926.0 1521.7 L925.6 1521.5 L925.2 1521.3 L924.9 1521.1 L924.5 1520.9 L924.2 1520.7 L923.8 1520.4 L923.5 1520.1 L923.2 1519.8 L922.9 1519.4 L922.6 1519.0 L922.4 1518.6 L922.1 1518.2 L921.8 1517.8 L921.6 1517.3 L921.4 1516.8 L921.2 1516.3 L921.0 1515.7 L920.8 1515.2 L920.6 1514.6 L920.4 1514.0 L920.3 1513.4 L920.1 1512.7 L920.0 1512.0 L919.9 1511.3 L919.8 1510.6 L919.7 1509.9 L919.6 1509.1 L919.5 1508.3 L919.5 1507.5 L919.4 1506.7 L919.4 1505.9 L919.4 1505.0 L919.4 1504.1 L919.4 1503.2 L919.4 1502.3 L919.5 1501.4 L919.5 1500.4 L919.6 1499.4 L919.7 1498.4 L919.7 1497.4 L919.8 1496.4 L919.9 1495.4 L920.1 1494.3 L920.2 1493.2 L920.4 1492.1 L920.5 1491.0 L920.7 1489.9 L920.9 1488.7 L921.1 1487.6 L921.3 1486.4 L921.5 1485.2 L921.7 1484.0 L922.0 1482.8 L922.2 1481.6 L922.5 1480.4 L922.8 1479.1 L923.1 1477.8 L923.4 1476.6 L923.7 1475.3 L924.0 1474.0 L924.4 1472.7 L924.7 1471.4 L925.1 1470.1 L925.5 1468.7 L925.8 1467.4 L926.2 1466.0 L926.6 1464.7 L927.1 1463.3 L927.5 1461.9 L927.9 1460.6 L928.4 1459.2 L928.8 1457.8 L929.3 1456.4 L929.8 1455.0 L930.2 1453.6 L930.7 1452.2 L931.2 1450.8 L931.7 1449.4 L932.3 1447.9 L932.8 1446.5 L933.3 1445.1 L933.9 1443.7 L934.4 1442.2 L935.0 1440.8 L935.6 1439.4 L936.2 1438.0 L936.7 1436.5 L937.3 1435.1 L937.9 1433.7 L938.5 1432.3 L939.2 1430.9 L939.8 1429.4 L940.4 1428.0 L941.0 1426.6 L941.7 1425.2 L942.3 1423.8 L943.0 1422.4 L943.6 1421.1 L944.3 1419.7 L945.0 1418.3 L945.6 1416.9 L946.3 1415.6 L947.0 1414.2 L947.7 1412.9 L948.4 1411.5 L949.1 1410.2 L949.8 1408.9 L950.5 1407.6 L951.2 1406.3 L951.9 1405.0 L952.6 1403.7 L953.3 1402.4 L954.0 1401.2 L954.7 1399.9 L955.5 1398.7 L956.2 1397.5 L956.9 1396.3 L957.6 1395.1 L958.4 1393.9 L959.1 1392.7 L959.8 1391.6 L960.5 1390.5 L961.3 1389.3 L962.0 1388.2 L962.7 1387.1 L963.4 1386.1 L964.2 1385.0 L964.9 1384.0 L965.6 1383.0 L966.3 1382.0 L967.1 1381.0 L967.8 1380.0 L968.5 1379.1 L969.2 1378.1 L969.9 1377.2 L970.6 1376.3 L971.3 1375.4 L972.0 1374.6 L972.7 1373.8 L973.4 1372.9 L974.1 1372.2 L974.8 1371.4 L975.5 1370.6 L976.2 1369.9 L976.8 1369.2 L977.5 1368.5 L978.2 1367.8 L978.8 1367.2 L979.5 1366.6 L980.1 1366.0 L980.8 1365.4 L981.4 1364.9 L982.1 1364.3 L982.7 1363.8 L983.3 1363.3 L983.9 1362.9 L984.5 1362.5 L985.1 1362.0 L985.7 1361.7 L986.3 1361.3 L986.9 1361.0 L987.4 1360.6 L988.0 1360.3 L988.5 1360.1 L989.1 1359.8 L989.6 1359.6 L990.1 1359.4 L990.7 1359.3 L991.2 1359.1 L991.7 1359.0 L992.1 1358.9 L992.6 1358.8 L993.1 1358.8 L993.6 1358.8 L994.0 1358.8 L994.4 1358.8 L994.9 1358.9 L995.3 1358.9 L995.7 1359.0 L996.1 1359.2 L996.5 1359.3" fill="none" stroke="#2a2a2a" stroke-width="0.75" stroke-linejoin="round" />
<path d="M984.0 1376.7 L984.3 1376.8 L984.6 1377.0 L984.8 1377.1 L985.1 1377.3 L985.4 1377.5 L985.6 1377.8 L985.8 1378.0 L986.1 1378.3 L986.3 1378.6 L986.5 1378.9 L986.7 1379.2 L986.9 1379.5 L987.1 1379.9 L987.2 1380.3 L987.4 1380.7 L987.6 1381.1 L987.7 1381.5 L987.8 1382.0 L988.0 1382.4 L988.1 1382.9 L988.2 1383.4 L988.3 1383.9 L988.4 1384.5 L988.5 1385.0 L988.5 1385.6 L988.6 1386.1 L988.6 1386.7 L988.7 1387.4 L988.7 1388.0 L988.7 1388.6 L988.7 1389.3 L988.7 1390.0 L988.7 1390.6 L988.7 1391.3 L988.7 1392.1 L988.7 1392.8 L988.6 1393.5 L988.6 1394.3 L988.5 1395.1 L988.4 1395.9 L988.3 1396.7 L988.2 1397.5 L988.1 1398.3 L988.0 1399.1 L987.9 1400.0 L987.8 1400.8 L987.6 1401.7 L987.5 1402.6 L987.3 1403.5 L987.1 1404.4 L987.0 1405.3 L986.8 1406.2 L986.6 1407.2 L986.4 1408.1 L986.2 1409.1 L985.9 1410.0" fill="none" stroke="#2a2a2a" stroke-width="0.75" stroke-linejoin="round" />
<path d="M955.7 1479.3 L955.1 1480.1 L954.6 1480.9 L954.0 1481.7 L953.5 1482.5 L952.9 1483.3 L952.4 1484.0 L951.8 1484.8 L951.3 1485.5 L950.7 1486.2 L950.2 1486.9 L949.6 1487.6 L949.1 1488.3 L948.5 1488.9 L948.0 1489.5 L947.5 1490.2 L947.0 1490.8 L946.4 1491.4 L945.9 1491.9 L945.4 1492.5 L944.9 1493.0 L944.4 1493.6 L943.9 1494.1 L943.3 1494.5 L942.8 1495.0 L942.4 1495.5 L941.9 1495.9 L941.4 1496.3 L940.9 1496.7 L940.4 1497.1 L939.9 1497.5 L939.5 1497.8 L939.0 1498.2 L938.6 1498.5 L938.1 1498.8 L937.7 1499.1 L937.2 1499.3 L936.8 1499.6 L936.4 1499.8 L935.9 1500.0 L935.5 1500.2 L935.1 1500.3 L934.7 1500.5 L934.3 1500.6 L933.9 1500.7 L933.6 1500.8 L933.2 1500.9 L932.8 1500.9 L932.5 1501.0 L932.1 1501.0 L931.8 1501.0 L931.4 1501.0 L931.1 1500.9 L930.8 1500.9 L930.5 1500.8 L930.2 1500.7 L929.9 1500.6 L929.6 1500.4 L929.3 1500.3 L929.0 1500.1 L928.8 1499.9 L928.5 1499.7 L928.3 1499.5 L928.0 1499.2 L927.8 1498.9 L927.6 1498.7 L927.4 1498.4 L927.2 1498.0 L927.0 1497.7 L926.8 1497.3 L926.6 1497.0 L926.5 1496.6 L926.3 1496.1 L926.2 1495.7 L926.0 1495.3 L925.9 1494.8 L925.8 1494.3 L925.7 1493.8 L925.6 1493.3 L925.5 1492.8 L925.4 1492.2 L925.3 1491.7 L925.3 1491.1 L925.2 1490.5 L925.2 1489.9 L925.2 1489.3 L925.1 1488.6 L925.1 1488.0 L925.1 1487.3 L925.1 1486.6 L925.1 1485.9 L925.2 1485.2 L925.2 1484.4 L925.3 1483.7 L925.3 1482.9 L925.4 1482.2 L925.5 1481.4 L925.5 1480.6 L925.6 1479.8 L925.7 1478.9 L925.8 1478.1 L926.0 1477.3 L926.1 1476.4 L926.2 1475.5 L926.4 1474.6 L926.6 1473.7 L926.7 1472.8 L926.9 1471.9 L927.1 1471.0 L927.3 1470.1 L927.5 1469.1 L927.7 1468.2 L927.9 1467.2 L928.2 1466.2 L928.4 1465.2 L928.7 1464.3 L928.9 1463.3 L929.2 1462.3 L929.5 1461.2 L929.7 1460.2 L930.0 1459.2 L930.3 1458.2 L930.6 1457.1 L931.0 1456.1 L931.3 1455.0 L931.6 1454.0 L932.0 1452.9 L932.3 1451.9 L932.7 1450.8 L933.0 1449.7 L933.4 1448.7 L933.8 1447.6 L934.2 1446.5 L934.6 1445.4 L934.9 1444.3 L935.4 1443.3 L935.8 1442.2 L936.2 1441.1 L936.6 1440.0 L937.0 1438.9 L937.5 1437.8 L937.9 1436.7 L938.4 1435.6 L938.8 1434.6 L939.3 1433.5 L939.7 1432.4 L940.2 1431.3 L940.7 1430.2 L941.2 1429.2 L941.6 1428.1 L942.1 1427.0 L942.6 1425.9 L943.1 1424.9 L943.6 1423.8 L944.1 1422.8 L944.6 1421.7 L945.2 1420.7 L945.7 1419.6 L946.2 1418.6 L946.7 1417.6 L947.3 1416.5 L947.8 1415.5 L948.3 1414.5 L948.9 1413.5 L949.4 1412.5 L949.9 1411.5 L950.5 1410.6 L951.0 1409.6 L951.6 1408.6 L952.1 1407.7 L952.7 1406.7 L953.2 1405.8 L953.8 1404.9 L954.3 1404.0 L954.9 1403.1 L955.4 1402.2 L956.0 1401.3 L956.5 1400.4 L957.1 1399.6 L957.6 1398.8 L958.2 1397.9 L958.8 1397.1 L959.3 1396.3 L959.9 1395.5 L960.4 1394.7 L961.0 1394.0 L961.5 1393.2 L962.1 1392.5 L962.6 1391.7 L963.2 1391.0 L963.7 1390.3 L964.2 1389.6 L964.8 1389.0 L965.3 1388.3 L965.9 1387.7 L966.4 1387.1 L966.9 1386.5 L967.4 1385.9 L968.0 1385.3 L968.5 1384.7 L969.0 1384.2 L969.5 1383.7 L970.0 1383.2 L970.5 1382.7 L971.0 1382.2 L971.5 1381.8 L972.0 1381.3 L972.5 1380.9 L973.0 1380.5 L973.5 1380.1 L973.9 1379.7 L974.4 1379.4 L974.9 1379.1 L975.3 1378.7 L975.8 1378.4 L976.2 1378.2 L976.6 1377.9 L977.1 1377.7 L977.5 1377.4 L977.9 1377.2 L978.3 1377.1 L978.7 1376.9 L979.1 1376.7 L979.5 1376.6 L979.9 1376.5 L980.3 1376.4 L980.7 1376.3 L981.0 1376.3 L981.4 1376.3 L981.8 1376.2 L982.1 1376.2 L982.4 1376.3 L982.8 1376.3 L983.1 1376.4 L983.4 1376.5 L983.7 1376.6 L984.0 1376.7" fill="none" stroke="#2a2a2a" stroke-width="0.75" stroke-linejoin="round" />
<path d="M976.6 1394.8 L976.8 1394.9 L977.0 1395.0 L977.2 1395.2 L977.4 1395.3 L977.6 1395.5 L977.7 1395.6 L977.9 1395.8 L978.1 1396.0 L978.2 1396.2 L978.4 1396.4 L978.5 1396.6 L978.7 1396.9 L978.8 1397.1 L978.9 1397.4 L979.0 1397.7 L979.1 1398.0 L979.2 1398.3 L979.3 1398.6 L979.4 1398.9 L979.5 1399.3 L979.6 1399.6 L979.7 1400.0 L979.7 1400.4 L979.8 1400.7 L979.8 1401.1 L979.9 1401.6 L979.9 1402.0 L979.9 1402.4 L980.0 1402.9 L980.0 1403.3 L980.0 1403.8 L980.0 1404.3 L980.0 1404.8 L980.0 1405.3 L979.9 1405.8 L979.9 1406.3 L979.9 1406.8 L979.8 1407.4 L979.8 1407.9" fill="none" stroke="#2a2a2a" stroke-width="0.75" stroke-linejoin="round" />
<path d="M949.9 1476.3 L949.6 1476.7 L949.2 1477.1 L948.8 1477.5 L948.5 1477.8 L948.1 1478.2 L947.7 1478.5 L947.4 1478.9 L947.0 1479.2 L946.7 1479.5 L946.3 1479.8 L946.0 1480.1 L945.7 1480.4 L945.3 1480.6 L945.0 1480.9 L944.7 1481.1 L944.3 1481.3 L944.0 1481.5 L943.7 1481.7 L943.4 1481.9 L943.1 1482.1 L942.8 1482.3 L942.5 1482.4 L942.2 1482.5 L941.9 1482.6 L941.6 1482.8 L941.3 1482.8 L941.1 1482.9 L940.8 1483.0 L940.5 1483.0 L940.3 1483.1 L940.0 1483.1 L939.8 1483.1 L939.5 1483.1 L939.3 1483.1 L939.1 1483.1 L938.8 1483.0 L938.6 1483.0 L938.4 1482.9 L938.2 1482.8 L938.0 1482.7 L937.8 1482.6 L937.6 1482.5 L937.4 1482.3 L937.2 1482.2 L937.0 1482.0 L936.9 1481.8 L936.7 1481.7 L936.6 1481.5 L936.4 1481.2 L936.3 1481.0 L936.1 1480.8 L936.0 1480.5 L935.9 1480.2 L935.8 1480.0 L935.6 1479.7 L935.5 1479.4 L935.4 1479.0 L935.4 1478.7 L935.3 1478.4 L935.2 1478.0 L935.1 1477.7 L935.1 1477.3 L935.0 1476.9 L935.0 1476.5 L934.9 1476.1 L934.9 1475.7 L934.8 1475.2 L934.8 1474.8 L934.8 1474.3 L934.8 1473.8 L934.8 1473.4 L934.8 1472.9 L934.8 1472.4 L934.8 1471.9 L934.9 1471.4 L934.9 1470.8 L934.9 1470.3 L935.0 1469.7 L935.0 1469.2 L935.1 1468.6 L935.2 1468.0 L935.2 1467.4 L935.3 1466.9 L935.4 1466.3 L935.5 1465.6 L935.6 1465.0 L935.7 1464.4 L935.8 1463.8 L935.9 1463.1 L936.1 1462.5 L936.2 1461.8 L936.3 1461.1 L936.5 1460.5 L936.6 1459.8 L936.8 1459.1 L937.0 1458.4 L937.1 1457.7 L937.3 1457.0 L937.5 1456.3 L937.7 1455.6 L937.9 1454.9 L938.1 1454.2 L938.3 1453.4 L938.5 1452.7 L938.7 1452.0 L939.0 1451.2 L939.2 1450.5 L939.4 1449.7 L939.7 1449.0 L939.9 1448.2 L940.2 1447.5 L940.4 1446.7 L940.7 1446.0 L940.9 1445.2 L941.2 1444.4 L941.5 1443.7 L941.8 1442.9 L942.1 1442.1 L942.4 1441.3 L942.7 1440.6 L943.0 1439.8 L943.3 1439.0 L943.6 1438.3 L943.9 1437.5 L944.2 1436.7 L944.5 1435.9 L944.9 1435.2 L945.2 1434.4 L945.5 1433.6 L945.9 1432.9 L946.2 1432.1 L946.5 1431.3 L946.9 1430.6 L947.2 1429.8 L947.6 1429.1 L947.9 1428.3 L948.3 1427.6 L948.7 1426.8 L949.0 1426.1 L949.4 1425.3 L949.8 1424.6 L950.1 1423.9 L950.5 1423.1 L950.9 1422.4 L951.3 1421.7 L951.7 1421.0 L952.0 1420.3 L952.4 1419.6 L952.8 1418.9 L953.2 1418.2 L953.6 1417.5 L954.0 1416.9 L954.4 1416.2 L954.8 1415.5 L955.1 1414.9 L955.5 1414.2 L955.9 1413.6 L956.3 1413.0 L956.7 1412.3 L957.1 1411.7 L957.5 1411.1 L957.9 1410.5 L958.3 1409.9 L958.7 1409.3 L959.1 1408.8 L959.5 1408.2 L959.9 1407.6 L960.3 1407.1 L960.6 1406.6 L961.0 1406.0 L961.4 1405.5 L961.8 1405.0 L962.2 1404.5 L962.6 1404.0 L963.0 1403.6 L963.3 1403.1 L963.7 1402.7 L964.1 1402.2 L964.5 1401.8 L964.9 1401.4 L965.2 1401.0 L965.6 1400.6 L966.0 1400.2 L966.3 1399.8 L966.7 1399.5 L967.0 1399.1 L967.4 1398.8 L967.7 1398.4 L968.1 1398.1 L968.4 1397.8 L968.8 1397.5 L969.1 1397.3 L969.5 1397.0 L969.8 1396.8 L970.1 1396.5 L970.4 1396.3 L970.8 1396.1 L971.1 1395.9 L971.4 1395.7 L971.7 1395.5 L972.0 1395.4 L972.3 1395.2 L972.6 1395.1 L972.9 1395.0 L973.2 1394.9 L973.4 1394.8 L973.7 1394.7 L974.0 1394.7 L974.3 1394.6 L974.5 1394.6 L974.8 1394.5 L975.0 1394.5 L975.3 1394.5 L975.5 1394.5 L975.7 1394.6 L976.0 1394.6 L976.2 1394.7 L976.4 1394.7 L976.6 1394.8" fill="none" stroke="#2a2a2a" stroke-width="0.75" stroke-linejoin="round" />
<path d="M947.4 1477.0 L947.0 1477.2 L946.7 1477.5 L946.4 1477.8 L946.1 1478.0 L945.8 1478.2 L945.5 1478.5 L945.2 1478.7 L944.9 1478.9 L944.6 1479.1 L944.3 1479.2 L944.0 1479.4 L943.7 1479.5 L943.4 1479.7 L943.1 1479.8 L942.9 1479.9 L942.6 1480.0 L942.3 1480.1 L942.1 1480.2 L941.8 1480.2 L941.6 1480.3 L941.3 1480.3 L941.1 1480.3 L940.9 1480.3 L940.6 1480.3 L940.4 1480.3 L940.2 1480.3 L940.0 1480.3 L939.8 1480.2 L939.6 1480.1 L939.4 1480.1 L939.2 1480.0 L939.0 1479.9 L938.8 1479.7 L938.6 1479.6 L938.5 1479.5 L938.3 1479.3 L938.2 1479.2 L938.0 1479.0 L937.9 1478.8 L937.7 1478.6 L937.6 1478.4 L937.5 1478.1 L937.3 1477.9 L937.2 1477.7 L937.1 1477.4 L937.0 1477.1 L936.9 1476.8 L936.8 1476.5 L936.7 1476.2 L936.7 1475.9 L936.6 1475.6 L936.5 1475.2 L936.5 1474.9 L936.4 1474.5 L936.4 1474.1 L936.3 1473.7 L936.3 1473.4 L936.3 1472.9 L936.2 1472.5 L936.2 1472.1 L936.2 1471.7 L936.2 1471.2 L936.2 1470.8 L936.2 1470.3 L936.2 1469.8 L936.3 1469.3 L936.3 1468.8 L936.3 1468.3 L936.4 1467.8 L936.4 1467.3 L936.5 1466.7 L936.6 1466.2 L936.6 1465.7 L936.7 1465.1 L936.8 1464.5 L936.9 1464.0 L937.0 1463.4 L937.1 1462.8 L937.2 1462.2 L937.3 1461.6 L937.4 1461.0 L937.5 1460.4 L937.7 1459.8 L937.8 1459.1 L937.9 1458.5 L938.1 1457.8 L938.2 1457.2 L938.4 1456.5 L938.6 1455.9 L938.7 1455.2 L938.9 1454.6 L939.1 1453.9 L939.3 1453.2 L939.5 1452.5 L939.7 1451.8 L939.9 1451.1 L940.1 1450.5 L940.3 1449.8 L940.5 1449.1 L940.8 1448.4 L941.0 1447.6 L941.2 1446.9 L941.5 1446.2 L941.7 1445.5 L942.0 1444.8 L942.2 1444.1 L942.5 1443.4 L942.8 1442.6 L943.0 1441.9 L943.3 1441.2 L943.6 1440.5 L943.9 1439.7 L944.1 1439.0 L944.4 1438.3 L944.7 1437.6 L945.0 1436.8 L945.3 1436.1 L945.6 1435.4 L945.9 1434.7 L946.3 1434.0 L946.6 1433.2 L946.9 1432.5 L947.2 1431.8 L947.5 1431.1 L947.9 1430.4 L948.2 1429.7 L948.5 1429.0 L948.9 1428.3 L949.2 1427.6 L949.6 1426.9 L949.9 1426.2 L950.2 1425.5 L950.6 1424.8 L950.9 1424.1 L951.3 1423.4 L951.7 1422.8 L952.0 1422.1 L952.4 1421.4 L952.7 1420.8 L953.1 1420.1 L953.5 1419.5 L953.8 1418.9 L954.2 1418.2 L954.5 1417.6 L954.9 1417.0 L955.3 1416.4 L955.7 1415.8 L956.0 1415.2 L956.4 1414.6 L956.8 1414.0 L957.1 1413.4 L957.5 1412.8 L957.9 1412.3 L958.2 1411.7 L958.6 1411.2 L959.0 1410.6 L959.3 1410.1 L959.7 1409.6 L960.1 1409.1 L960.4 1408.6 L960.8 1408.1 L961.2 1407.6 L961.5 1407.1 L961.9 1406.7 L962.3 1406.2 L962.6 1405.8 L963.0 1405.3 L963.3 1404.9 L963.7 1404.5 L964.0 1404.1 L964.4 1403.7 L964.7 1403.3 L965.1 1403.0 L965.4 1402.6 L965.8 1402.2 L966.1 1401.9 L966.4 1401.6 L966.8 1401.3 L967.1 1401.0 L967.4 1400.7 L967.8 1400.4 L968.1 1400.1 L968.4 1399.9 L968.7 1399.6 L969.0 1399.4 L969.3 1399.2 L969.6 1399.0 L969.9 1398.8 L970.2 1398.6 L970.5 1398.4 L970.8 1398.2 L971.1 1398.1 L971.4 1398.0 L971.6 1397.8 L971.9 1397.7 L972.2 1397.6 L972.4 1397.5 L972.7 1397.5 L973.0 1397.4 L973.2 1397.4 L973.4 1397.3 L973.7 1397.3 L973.9 1397.3 L974.1 1397.3 L974.4 1397.3 L974.6 1397.3 L974.8 1397.4 L975.0 1397.4 L975.2 1397.5 L975.4 1397.6 L975.6 1397.7 L975.8 1397.8 L976.0 1397.9 L976.1 1398.0 L976.3 1398.2 L976.5 1398.3 L976.6 1398.5 L976.8 1398.7 L976.9 1398.9 L977.1 1399.1 L977.2 1399.3 L977.3 1399.5 L977.5 1399.7 L977.6 1400.0 L977.7 1400.2 L977.8 1400.5 L977.9 1400.8 L978.0 1401.1 L978.1 1401.4 L978.1 1401.7" fill="none" stroke="#2a2a2a" stroke-width="0.75" stroke-linejoin="round" />
<path d="M944.3 1476.1 L944.0 1476.1 L943.8 1476.1 L943.6 1476.1 L943.4 1476.1 L943.2 1476.1 L943.0 1476.1 L942.8 1476.1 L942.6 1476.0 L942.5 1475.9 L942.3 1475.9 L942.1 1475.8 L942.0 1475.7 L941.8 1475.6 L941.6 1475.5 L941.5 1475.4 L941.3 1475.2 L941.2 1475.1 L941.1 1474.9 L940.9 1474.7 L940.8 1474.6 L940.7 1474.4 L940.6 1474.2 L940.5 1474.0 L940.4 1473.7 L940.3 1473.5 L940.2 1473.3 L940.1 1473.0 L940.0 1472.7 L939.9 1472.5 L939.9 1472.2 L939.8 1471.9 L939.8 1471.6 L939.7 1471.3 L939.7 1470.9 L939.6 1470.6 L939.6 1470.3 L939.5 1469.9 L939.5 1469.6 L939.5 1469.2 L939.5 1468.8 L939.5 1468.4 L939.5 1468.0 L939.5 1467.6 L939.5 1467.2 L939.5 1466.8 L939.5 1466.3 L939.6 1465.9 L939.6 1465.4 L939.6 1465.0 L939.7 1464.5 L939.7 1464.0 L939.8 1463.6 L939.8 1463.1 L939.9 1462.6 L940.0 1462.1 L940.1 1461.6 L940.1 1461.1 L940.2 1460.5 L940.3 1460.0 L940.4 1459.5 L940.5 1458.9 L940.7 1458.4 L940.8 1457.8 L940.9 1457.3 L941.0 1456.7 L941.1 1456.1 L941.3 1455.6 L941.4 1455.0 L941.6 1454.4 L941.7 1453.8 L941.9 1453.2 L942.1 1452.6 L942.2 1452.0 L942.4 1451.4 L942.6 1450.8 L942.8 1450.2 L942.9 1449.6 L943.1 1448.9 L943.3 1448.3 L943.5 1447.7 L943.7 1447.1 L943.9 1446.4 L944.2 1445.8 L944.4 1445.2 L944.6 1444.5 L944.8 1443.9 L945.1 1443.3 L945.3 1442.6 L945.5 1442.0 L945.8 1441.3 L946.0 1440.7 L946.3 1440.0 L946.5 1439.4 L946.8 1438.8 L947.1 1438.1 L947.3 1437.5 L947.6 1436.8 L947.9 1436.2 L948.1 1435.5 L948.4 1434.9 L948.7 1434.3 L949.0 1433.6 L949.3 1433.0 L949.6 1432.4 L949.8 1431.7 L950.1 1431.1 L950.4 1430.5 L950.7 1429.8 L951.0 1429.2 L951.3 1428.6 L951.6 1428.0 L952.0 1427.4 L952.3 1426.8 L952.6 1426.2 L952.9 1425.6 L953.2 1425.0 L953.5 1424.4 L953.8 1423.8 L954.2 1423.2 L954.5 1422.6 L954.8 1422.0 L955.1 1421.5 L955.5 1420.9 L955.8 1420.4 L956.1 1419.8 L956.4 1419.3 L956.8 1418.7 L957.1 1418.2 L957.4 1417.7 L957.7 1417.1 L958.1 1416.6 L958.4 1416.1 L958.7 1415.6 L959.1 1415.1 L959.4 1414.7 L959.7 1414.2 L960.0 1413.7 L960.4 1413.2 L960.7 1412.8 L961.0 1412.3 L961.3 1411.9 L961.7 1411.5 L962.0 1411.1 L962.3 1410.6 L962.6 1410.2 L963.0 1409.9 L963.3 1409.5 L963.6 1409.1 L963.9 1408.7 L964.2 1408.4 L964.5 1408.0 L964.8 1407.7 L965.1 1407.3 L965.4 1407.0 L965.7 1406.7 L966.1 1406.4 L966.3 1406.1 L966.6 1405.8 L966.9 1405.6 L967.2 1405.3 L967.5 1405.1 L967.8 1404.8 L968.1 1404.6 L968.4 1404.4 L968.6 1404.2 L968.9 1404.0 L969.2 1403.8 L969.4 1403.6 L969.7 1403.5 L970.0 1403.3 L970.2 1403.2 L970.5 1403.0 L970.7 1402.9 L971.0 1402.8 L971.2 1402.7 L971.5 1402.6 L971.7 1402.5 L971.9 1402.5 L972.1 1402.4 L972.4 1402.4 L972.6 1402.3 L972.8 1402.3 L973.0 1402.3 L973.2 1402.3 L973.4 1402.3 L973.6 1402.4 L973.8 1402.4 L974.0 1402.4 L974.1 1402.5 L974.3 1402.6 L974.5 1402.6 L974.7 1402.7 L974.8 1402.8 L975.0 1403.0 L975.1 1403.1 L975.3 1403.2 L975.4 1403.4 L975.5 1403.5 L975.7 1403.7 L975.8 1403.9" fill="none" stroke="#2a2a2a" stroke-width="0.75" stroke-linejoin="round" />
<path d="M943.91 1473.42 A37.10 10.02 -66.40 0 1 973.62 1405.43" fill="none" stroke="#2a2a2a" stroke-width="0.75"/>
<path d="M973.6 1405.4 L1046.8 1437.6" fill="none" stroke="#2a2a2a" stroke-width="0.75" stroke-linejoin="round" />
<path d="M943.9 1473.4 L1017.1 1505.6" fill="none" stroke="#2a2a2a" stroke-width="0.75" stroke-linejoin="round" />
<path d="M1017.14 1505.64 A37.10 10.02 -66.40 0 1 1046.84 1437.65" fill="none" stroke="#2a2a2a" stroke-width="0.75"/>
<path d="M1048.0 1437.6 L1066.4 1455.5" fill="none" stroke="#2a2a2a" stroke-width="0.75" stroke-linejoin="round" />
<path d="M1016.0 1505.6 L1046.4 1509.6" fill="none" stroke="#2a2a2a" stroke-width="0.75" stroke-linejoin="round" />
<path d="M1066.4 1456.0 C1065.2 1455.8 1061.9 1453.8 1059.2 1454.9 C1056.5 1455.9 1052.8 1459.1 1050.4 1462.4 C1048.0 1465.7 1045.3 1471.1 1044.8 1474.4 C1044.3 1477.7 1046.8 1481.1 1047.2 1482.4" fill="none" stroke="#2a2a2a" stroke-width="0.75"/>
<path d="M1047.2 1482.4 L1046.4 1494.1" fill="none" stroke="#2a2a2a" stroke-width="0.75" stroke-linejoin="round" />
<path d="M1046.4 1493.6 C1045.7 1493.7 1043.4 1493.3 1041.9 1494.4 C1040.5 1495.5 1038.1 1498.1 1037.6 1500.3 C1037.1 1502.6 1037.3 1506.5 1038.7 1508.0 C1040.2 1509.5 1045.1 1509.3 1046.4 1509.6" fill="none" stroke="#2a2a2a" stroke-width="0.75"/>
<path d="M1066.4 1456.0 L1168.0 1500.0" fill="none" stroke="#2a2a2a" stroke-width="0.75" stroke-linejoin="round" />
<path d="M1064.0 1457.8 L1164.8 1502.4" fill="none" stroke="#2a2a2a" stroke-width="0.75" stroke-linejoin="round" />
<path d="M1047.2 1482.4 L1150.4 1525.9" fill="none" stroke="#2a2a2a" stroke-width="0.75" stroke-linejoin="round" />
<path d="M1046.4 1494.1 L1144.8 1536.5" fill="none" stroke="#2a2a2a" stroke-width="0.75" stroke-linejoin="round" />
<path d="M1046.4 1509.6 L1144.0 1552.8 L1152.0 1553.3 L1171.2 1553.1" fill="none" stroke="#2a2a2a" stroke-width="0.75" stroke-linejoin="round" />
<path d="M1168.0 1500.0 L1185.6 1516.8" fill="none" stroke="#2a2a2a" stroke-width="0.75" stroke-linejoin="round" />
<path d="M1185.6 1516.8 C1185.7 1518.0 1186.7 1521.5 1186.4 1524.0 C1186.1 1526.5 1185.4 1528.5 1184.0 1532.0 C1182.6 1535.5 1180.1 1541.3 1177.9 1544.8 C1175.8 1548.3 1172.3 1551.7 1171.2 1553.1" fill="none" stroke="#2a2a2a" stroke-width="0.75"/>
<path d="M1185.6 1516.8 C1184.5 1517.6 1181.5 1518.7 1179.2 1521.6 C1176.9 1524.5 1173.8 1530.3 1172.0 1534.4 C1170.2 1538.5 1168.9 1543.3 1168.3 1546.4 C1167.8 1549.5 1168.7 1551.7 1168.8 1552.8" fill="none" stroke="#2a2a2a" stroke-width="0.75"/>
<path d="M1164.8 1502.4 C1165.1 1503.9 1167.0 1508.3 1166.7 1511.2 C1166.5 1514.1 1164.8 1517.9 1163.2 1520.0 C1161.6 1522.1 1159.3 1523.0 1157.1 1524.0 C1155.0 1525.0 1151.5 1525.6 1150.4 1525.9" fill="none" stroke="#2a2a2a" stroke-width="0.75"/>
<path d="M1150.4 1525.9 L1144.8 1536.5" fill="none" stroke="#2a2a2a" stroke-width="0.75" stroke-linejoin="round" />
<path d="M1144.8 1536.5 C1145.7 1537.9 1148.9 1542.0 1150.4 1544.8 C1151.9 1547.6 1153.3 1551.9 1153.9 1553.3" fill="none" stroke="#2a2a2a" stroke-width="0.75"/>
<ellipse cx="1067.60" cy="1078.70" rx="51.80" ry="13.99" transform="rotate(-66.40 1067.60 1078.70)" fill="none" stroke="#2a2a2a" stroke-width="0.75"/>
<ellipse cx="1067.60" cy="1078.70" rx="35.20" ry="9.50" transform="rotate(-66.40 1067.60 1078.70)" fill="none" stroke="#2a2a2a" stroke-width="0.75"/>
<path d="M994.01 1098.74 A48.30 13.04 -66.40 0 1 1034.15 1011.38" fill="none" stroke="#2a2a2a" stroke-width="0.75"/>
<path d="M1088.3 1031.2 L1034.2 1011.4" fill="none" stroke="#2a2a2a" stroke-width="0.75" stroke-linejoin="round" />
<path d="M1031.24 1104.82 A51.80 13.99 -66.40 0 1 1075.97 1025.83" fill="none" stroke="#2a2a2a" stroke-width="0.75"/>
<path d="M1030.05 1104.30 A51.80 13.99 -66.40 0 1 1074.78 1025.31" fill="none" stroke="#2a2a2a" stroke-width="0.75"/>
<path d="M1028.95 1103.82 A51.80 13.99 -66.40 0 1 1073.68 1024.83" fill="none" stroke="#2a2a2a" stroke-width="0.75"/>
<path d="M1009.46 1097.84 A51.80 13.99 -66.40 0 1 1054.43 1016.42" fill="none" stroke="#2a2a2a" stroke-width="0.75"/>
<path d="M1008.27 1097.32 A51.80 13.99 -66.40 0 1 1053.24 1015.90" fill="none" stroke="#2a2a2a" stroke-width="0.75"/>
<path d="M1007.17 1096.84 A51.80 13.99 -66.40 0 1 1052.14 1015.42" fill="none" stroke="#2a2a2a" stroke-width="0.75"/>
<path d="M989.6 1097.4 C989.2 1098.5 987.5 1102.1 987.3 1103.9 C987.1 1105.6 987.0 1106.8 988.4 1107.9 C989.9 1109.0 994.5 1109.9 995.7 1110.4" fill="none" stroke="#2a2a2a" stroke-width="0.75"/>
<path d="M1012.0 1088.4 C1012.2 1088.9 1011.4 1089.7 1013.6 1090.9 C1015.8 1092.1 1023.1 1094.9 1025.0 1095.7" fill="none" stroke="#2a2a2a" stroke-width="0.75"/>
<path d="M1025.0 1095.7 C1025.1 1097.1 1026.4 1100.5 1025.8 1103.9 C1025.1 1107.2 1022.3 1112.8 1020.9 1116.0 C1019.5 1119.3 1017.8 1122.1 1017.2 1123.3" fill="none" stroke="#2a2a2a" stroke-width="0.75"/>
<path d="M1021.7 1134.7 C1022.0 1134.2 1022.0 1133.0 1023.3 1131.8 C1024.7 1130.6 1027.4 1128.2 1029.8 1127.6 C1032.3 1127.0 1035.8 1128.0 1037.9 1128.2 C1040.1 1128.4 1041.3 1129.7 1042.8 1129.0 C1044.3 1128.3 1044.7 1125.6 1046.9 1124.1 C1049.0 1122.7 1054.3 1120.8 1055.8 1120.1" fill="none" stroke="#2a2a2a" stroke-width="0.75"/>
<path d="M1013.6 1123.3 C1013.2 1124.4 1011.4 1127.5 1011.2 1129.8 C1010.9 1132.1 1011.4 1135.2 1012.0 1137.1 C1012.5 1139.0 1013.1 1141.3 1014.4 1141.2 C1015.8 1141.1 1019.1 1137.1 1020.1 1136.3" fill="none" stroke="#2a2a2a" stroke-width="0.75"/>
<path d="M1013.6 1125.0 L1017.2 1128.2 L1016.0 1137.9" fill="none" stroke="#2a2a2a" stroke-width="0.75" stroke-linejoin="round" />
<path d="M996.3 1110.4 L906.7 1256.0" fill="none" stroke="#2a2a2a" stroke-width="0.75" stroke-linejoin="round" />
<path d="M1012.5 1090.5 L909.5 1258.0" fill="none" stroke="#2a2a2a" stroke-width="0.75" stroke-linejoin="round" />
<path d="M1023.3 1095.7 L921.0 1262.0" fill="none" stroke="#2a2a2a" stroke-width="0.75" stroke-linejoin="round" />
<path d="M1025.0 1103.9 L927.1 1263.0" fill="none" stroke="#2a2a2a" stroke-width="0.75" stroke-linejoin="round" />
<path d="M1016.8 1120.9 L928.8 1264.0" fill="none" stroke="#2a2a2a" stroke-width="0.75" stroke-linejoin="round" />
<path d="M1018.1 1128.9 L933.7 1266.0" fill="none" stroke="#2a2a2a" stroke-width="0.75" stroke-linejoin="round" />
<path d="M1019.8 1133.9 L937.3 1268.0" fill="none" stroke="#2a2a2a" stroke-width="0.75" stroke-linejoin="round" />
<path d="M1020.7 1135.7 L938.7 1269.0" fill="none" stroke="#2a2a2a" stroke-width="0.75" stroke-linejoin="round" />
<path d="M1021.7 1137.5 L940.2 1270.0" fill="none" stroke="#2a2a2a" stroke-width="0.75" stroke-linejoin="round" />
<path d="M841.4 1234.9 C843.4 1235.1 849.7 1235.7 853.5 1236.0 C857.4 1236.3 861.0 1236.4 864.5 1236.9 C868.0 1237.3 871.7 1237.9 874.4 1238.8 C877.2 1239.6 879.0 1240.7 881.0 1242.1 C883.0 1243.4 884.9 1245.1 886.5 1247.0 C888.2 1248.9 889.7 1251.3 890.9 1253.6 C892.1 1255.9 893.2 1259.6 893.7 1260.8" fill="none" stroke="#2a2a2a" stroke-width="0.75"/>
<path d="M841.4 1234.9 L837.0 1242.4 L836.2 1244.8 L839.4 1246.1 L806.2 1300.4" fill="none" stroke="#2a2a2a" stroke-width="0.75" stroke-linejoin="round" />
<path d="M884.3 1244.3 L845.6 1308.8 L844.9 1309.9 L851.3 1312.1 L850.4 1313.7" fill="none" stroke="#2a2a2a" stroke-width="0.75" stroke-linejoin="round" />
<path d="M871.3 1272.9 L873.3 1274.5 L873.3 1277.3 L860.7 1296.0 L856.8 1297.4" fill="none" stroke="#2a2a2a" stroke-width="1.0" stroke-linejoin="round" />
<path d="M893.7 1260.8 C892.1 1260.7 887.2 1259.6 884.3 1260.2 C881.5 1260.8 878.8 1262.6 876.6 1264.6 C874.4 1266.7 872.0 1271.2 871.1 1272.5" fill="none" stroke="#2a2a2a" stroke-width="0.75"/>
<path d="M893.7 1260.8 C894.7 1260.6 898.0 1260.6 899.7 1260.0 C901.5 1259.3 902.9 1257.9 904.1 1256.9 C905.3 1255.9 906.4 1254.3 906.9 1253.8" fill="none" stroke="#2a2a2a" stroke-width="0.75"/>
<path d="M900.3 1263.3 C898.8 1264.3 894.7 1266.3 891.5 1269.6 C888.3 1272.8 884.6 1277.3 881.0 1282.8 C877.4 1288.3 873.4 1296.0 870.0 1302.6 C866.6 1309.1 862.2 1318.6 860.7 1321.8" fill="none" stroke="#2a2a2a" stroke-width="0.65"/>
<path d="M901.4 1263.3 C899.9 1264.3 895.8 1266.3 892.6 1269.6 C889.4 1272.8 885.7 1277.3 882.1 1282.8 C878.5 1288.3 874.5 1296.0 871.1 1302.6 C867.7 1309.1 863.3 1318.6 861.8 1321.8" fill="none" stroke="#2a2a2a" stroke-width="0.65"/>
<path d="M902.5 1263.3 C901.0 1264.3 896.9 1266.3 893.7 1269.6 C890.5 1272.8 886.8 1277.3 883.2 1282.8 C879.6 1288.3 875.6 1296.0 872.2 1302.6 C868.8 1309.1 864.4 1318.6 862.9 1321.8" fill="none" stroke="#2a2a2a" stroke-width="0.65"/>
<path d="M917.3 1268.1 C914.9 1270.5 907.2 1277.1 903.0 1282.4 C898.8 1287.7 895.5 1294.0 892.0 1300.0 C888.5 1306.1 884.7 1313.6 882.1 1318.7 C879.5 1323.9 877.5 1328.8 876.6 1330.8" fill="none" stroke="#2a2a2a" stroke-width="0.65"/>
<path d="M918.6 1268.1 C916.3 1270.5 908.6 1277.1 904.3 1282.4 C900.1 1287.7 896.8 1294.0 893.3 1300.0 C889.8 1306.1 886.0 1313.6 883.4 1318.7 C880.9 1323.9 878.8 1328.8 877.9 1330.8" fill="none" stroke="#2a2a2a" stroke-width="0.65"/>
<path d="M920.0 1268.1 C917.6 1270.5 909.9 1277.1 905.7 1282.4 C901.4 1287.7 898.1 1294.0 894.7 1300.0 C891.2 1306.1 887.3 1313.6 884.8 1318.7 C882.2 1323.9 880.2 1328.8 879.3 1330.8" fill="none" stroke="#2a2a2a" stroke-width="0.65"/>
<path d="M907.4 1257.5 L920.1 1262.6 L921.7 1271.2" fill="none" stroke="#2a2a2a" stroke-width="0.75" stroke-linejoin="round" />
<path d="M903.0 1263.5 L918.4 1270.1" fill="none" stroke="#2a2a2a" stroke-width="0.75" stroke-linejoin="round" />
<path d="M927.2 1262.4 L941.5 1268.5 L964.6 1289.0" fill="none" stroke="#2a2a2a" stroke-width="0.75" stroke-linejoin="round" />
<path d="M964.6 1289.0 C965.7 1290.1 969.7 1292.9 971.2 1295.4 C972.8 1297.9 973.4 1300.4 974.0 1304.2 C974.5 1308.1 974.5 1314.3 974.5 1318.5 C974.5 1322.7 974.1 1327.7 974.0 1329.5" fill="none" stroke="#2a2a2a" stroke-width="0.75"/>
<path d="M925.0 1263.0 L921.7 1271.8 L890.9 1329.0 L883.2 1327.3" fill="none" stroke="#2a2a2a" stroke-width="0.75" stroke-linejoin="round" />
<path d="M911.3 1291.6 L897.5 1312.5 L898.8 1313.6 L912.4 1293.2 L911.3 1291.6" fill="none" stroke="#2a2a2a" stroke-width="0.75" stroke-linejoin="round" />
<path d="M963.0 1289.9 L954.7 1296.3 L938.2 1322.9" fill="none" stroke="#2a2a2a" stroke-width="0.75" stroke-linejoin="round" />
<path d="M954.7 1296.3 C955.8 1296.7 959.5 1297.4 961.3 1298.9 C963.2 1300.4 964.6 1302.4 965.7 1305.3 C966.8 1308.2 967.4 1312.5 967.9 1316.3 C968.5 1320.2 968.8 1326.4 969.0 1328.4" fill="none" stroke="#2a2a2a" stroke-width="0.75"/>
<path d="M945.9 1320.2 C947.2 1318.2 950.9 1311.4 953.6 1308.6 C956.4 1305.9 961.0 1304.5 962.4 1303.7" fill="none" stroke="#2a2a2a" stroke-width="0.75"/>
<path d="M826.0 1266.6 C824.9 1266.8 821.8 1266.8 819.4 1267.9 C817.0 1269.0 814.5 1271.0 811.7 1273.4 C809.0 1275.8 806.2 1278.5 802.9 1282.2 C799.6 1285.9 793.7 1293.2 791.9 1295.4" fill="none" stroke="#2a2a2a" stroke-width="0.75"/>
<path d="M817.2 1282.2 C816.1 1282.6 812.8 1283.1 810.6 1284.4 C808.4 1285.7 806.1 1288.0 804.0 1289.9 C801.9 1291.8 799.0 1294.9 798.0 1296.0" fill="none" stroke="#2a2a2a" stroke-width="0.75"/>
<path d="M812.8 1284.4 L813.9 1288.6" fill="none" stroke="#2a2a2a" stroke-width="0.75" stroke-linejoin="round" />
<path d="M780.4 1293.2 L806.2 1299.8 L824.9 1309.2" fill="none" stroke="#2a2a2a" stroke-width="0.75" stroke-linejoin="round" />
<path d="M824.9 1309.2 C825.1 1309.8 825.7 1310.5 826.0 1313.0 C826.3 1315.5 826.2 1320.0 826.4 1324.0 C826.7 1328.0 826.9 1334.3 827.3 1337.2 C827.8 1340.1 828.3 1341.2 829.1 1341.6 C829.9 1342.1 830.7 1341.2 832.1 1340.0 C833.4 1338.7 835.3 1336.6 837.0 1333.9 C838.7 1331.3 840.3 1327.5 842.5 1324.0 C844.7 1320.5 848.9 1314.8 850.2 1313.0" fill="none" stroke="#2a2a2a" stroke-width="0.75"/>
<path d="M826.7 1325.1 L839.2 1331.2" fill="none" stroke="#2a2a2a" stroke-width="0.75" stroke-linejoin="round" />
<path d="M850.2 1313.0 C849.1 1315.4 845.4 1322.5 843.6 1327.3 C841.9 1332.1 840.6 1337.9 839.8 1341.6 C838.9 1345.4 838.8 1348.5 838.7 1349.9" fill="none" stroke="#2a2a2a" stroke-width="0.75"/>
<path d="M838.7 1349.9 C837.3 1351.8 833.2 1356.2 830.4 1361.4 C827.6 1366.6 824.2 1374.8 821.6 1381.2 C819.0 1387.6 816.1 1396.8 815.0 1399.9" fill="none" stroke="#2a2a2a" stroke-width="0.75"/>
<path d="M838.7 1349.9 L841.4 1351.0" fill="none" stroke="#2a2a2a" stroke-width="0.75" stroke-linejoin="round" />
<path d="M857.4 1322.4 L875.0 1330.1 L903.0 1346.0 L903.6 1349.3 L902.5 1357.0" fill="none" stroke="#2a2a2a" stroke-width="0.75" stroke-linejoin="round" />
<path d="M899.7 1359.8 L901.4 1369.1 L906.3 1360.5 L900.8 1358.1" fill="none" stroke="#2a2a2a" stroke-width="0.75" stroke-linejoin="round" />
<path d="M841.4 1351.0 L857.4 1322.4" fill="none" stroke="#2a2a2a" stroke-width="0.75" stroke-linejoin="round" />
<path d="M938.2 1322.9 L945.9 1320.5 L980.0 1333.9" fill="none" stroke="#2a2a2a" stroke-width="0.75" stroke-linejoin="round" />
</svg></body></html>
